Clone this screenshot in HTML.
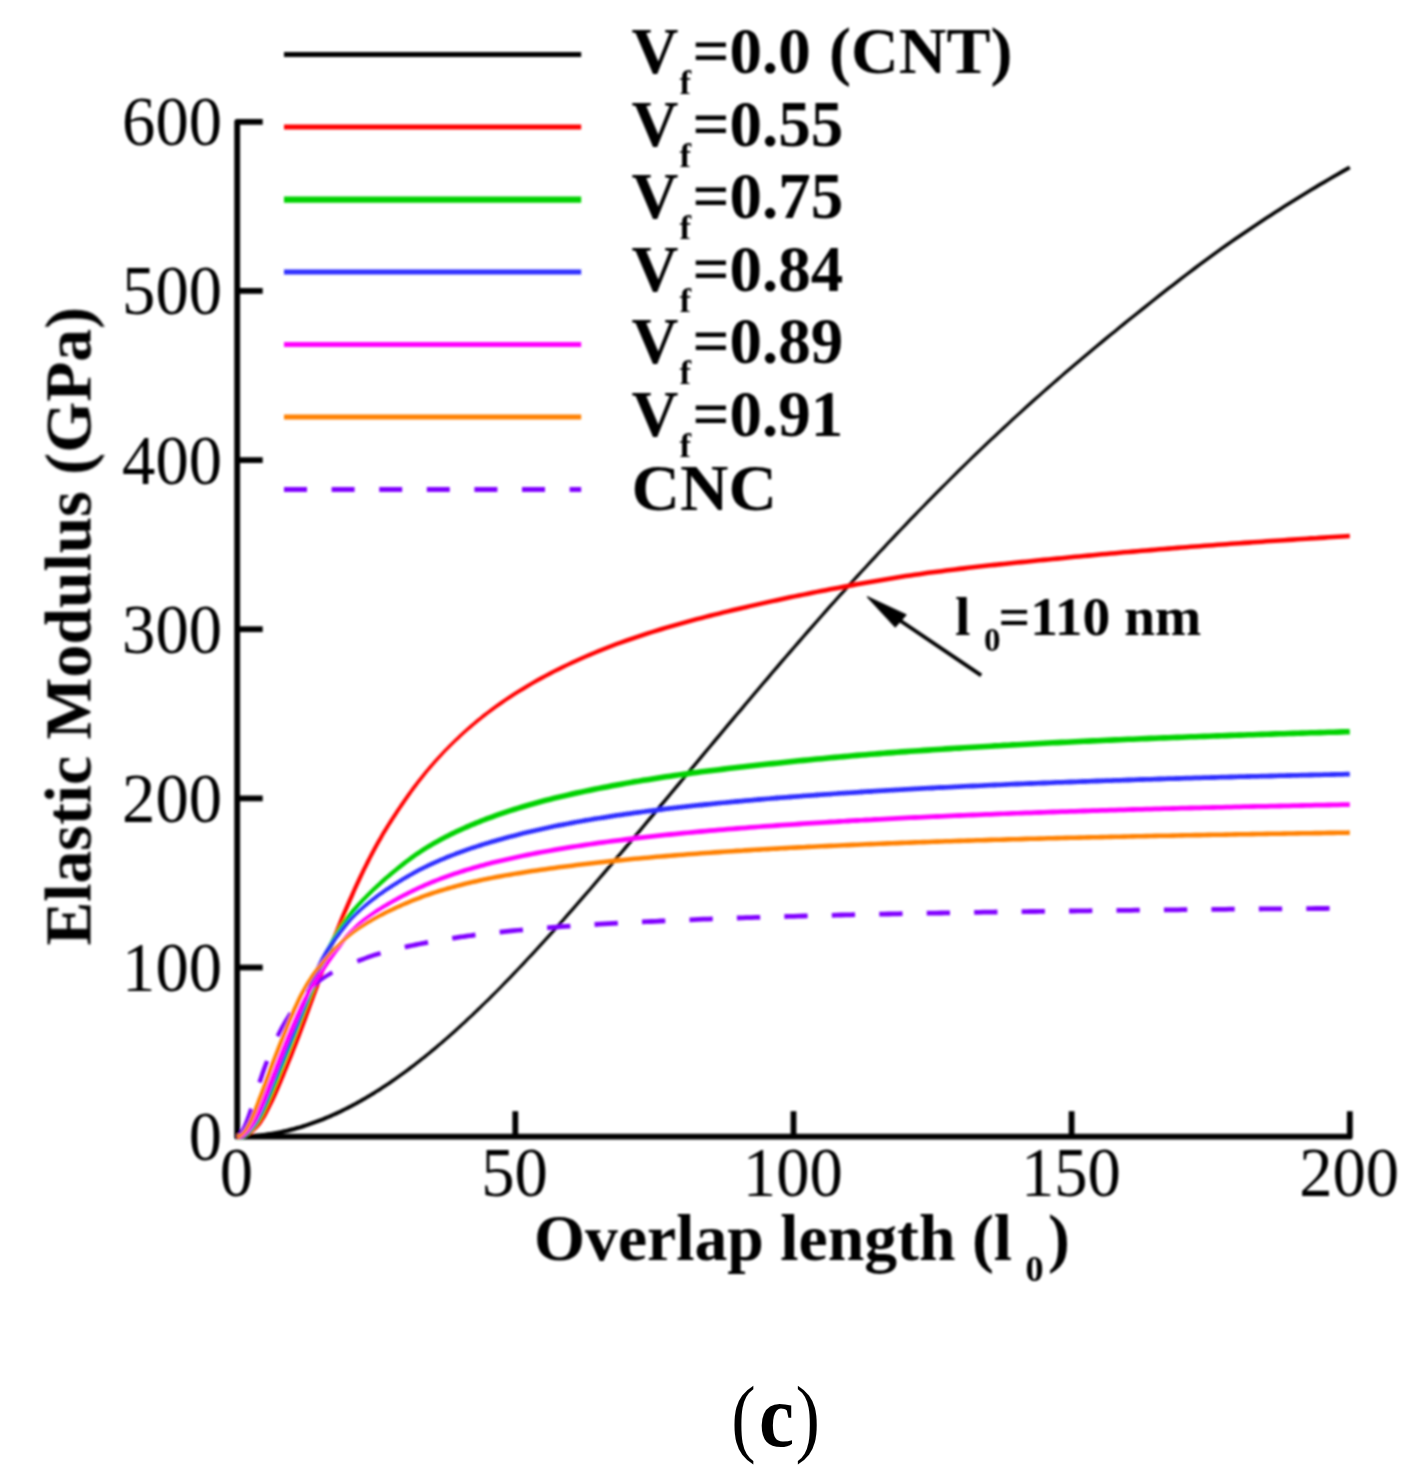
<!DOCTYPE html>
<html><head><meta charset="utf-8"><title>Elastic modulus vs overlap length</title>
<style>
html,body{margin:0;padding:0;background:#fff;}
body{width:1423px;height:1479px;overflow:hidden;font-family:"Liberation Serif",serif;}
svg{display:block;position:absolute;left:0;top:0;}
svg text{font-family:"Liberation Serif",serif;fill:#000;}
.b{font-weight:bold;}
.c{fill:none;stroke-linecap:butt;stroke-linejoin:round;}
</style></head><body>
<svg width="1423" height="1479" viewBox="0 0 1423 1479">
<rect width="1423" height="1479" fill="#fff"/>
<defs><filter id="bl" x="0" y="0" width="1423" height="1479" filterUnits="userSpaceOnUse"><feGaussianBlur stdDeviation="0.8"/></filter></defs>
<g filter="url(#bl)">
<g stroke="#000" stroke-width="5.8" fill="none" stroke-linecap="butt" stroke-linejoin="round">
<path d="M262.7,121.8 L237.2,121.8 L237.2,1136.7 L1349.8,1136.7 L1349.8,1111.2"/>
<path d="M237.2,967.5 h25.5"/>
<path d="M237.2,798.4 h25.5"/>
<path d="M237.2,629.2 h25.5"/>
<path d="M237.2,460.1 h25.5"/>
<path d="M237.2,290.9 h25.5"/>
<path d="M515.3,1136.7 v-25.5"/>
<path d="M793.5,1136.7 v-25.5"/>
<path d="M1071.6,1136.7 v-25.5"/>
</g>
<path d="M237.2,1138.8 238.6,1138.8 240.0,1138.8 241.4,1138.8 242.8,1138.8 244.2,1138.7 245.6,1138.7 247.0,1138.6 248.4,1138.5 249.8,1138.5 251.3,1138.4 252.7,1138.3 254.1,1138.2 255.5,1138.0 256.9,1137.9 258.3,1137.8 259.7,1137.6 261.1,1137.5 262.5,1137.3 263.9,1137.1 265.3,1137.0 266.7,1136.8 268.1,1136.6 269.5,1136.3 270.9,1136.1 272.3,1135.9 273.7,1135.6 275.1,1135.4 276.5,1135.1 277.9,1134.9 279.3,1134.6 280.7,1134.3 282.1,1134.0 283.5,1133.7 284.9,1133.4 286.4,1133.1 287.8,1132.7 289.2,1132.4 290.6,1132.0 292.0,1131.7 293.4,1131.3 294.8,1130.9 296.2,1130.5 297.6,1130.1 299.0,1129.7 300.4,1129.3 301.8,1128.9 303.2,1128.4 304.6,1128.0 306.0,1127.5 307.4,1127.1 308.8,1126.6 310.2,1126.1 311.6,1125.6 313.0,1125.1 314.4,1124.6 315.8,1124.1 317.2,1123.6 318.6,1123.1 320.0,1122.5 321.4,1122.0 322.8,1121.4 324.2,1120.9 325.6,1120.3 327.0,1119.7 328.4,1119.1 329.8,1118.5 331.2,1117.9 332.6,1117.3 334.0,1116.6 335.4,1116.0 336.8,1115.4 338.2,1114.7 339.6,1114.1 341.0,1113.4 342.3,1112.7 343.7,1112.0 345.1,1111.3 346.5,1110.6 347.9,1109.9 349.3,1109.2 350.7,1108.5 352.1,1107.7 353.5,1107.0 354.9,1106.2 356.3,1105.5 357.7,1104.7 359.1,1103.9 360.5,1103.1 361.9,1102.4 363.3,1101.6 364.7,1100.7 366.1,1099.9 367.5,1099.1 368.9,1098.3 370.3,1097.4 371.7,1096.6 373.1,1095.7 374.5,1094.9 375.8,1094.0 377.2,1093.1 378.6,1092.2 380.0,1091.4 381.4,1090.5 382.8,1089.5 384.2,1088.6 385.6,1087.7 387.0,1086.8 388.4,1085.8 389.8,1084.9 391.2,1083.9 392.6,1083.0 394.0,1082.0 395.4,1081.0 396.8,1080.1 398.1,1079.1 399.5,1078.1 400.9,1077.1 402.3,1076.1 403.7,1075.1 405.1,1074.0 406.5,1073.0 407.9,1072.0 409.3,1070.9 410.7,1069.9 412.1,1068.8 413.5,1067.8 414.9,1066.7 416.3,1065.6 417.6,1064.5 419.0,1063.4 420.4,1062.3 421.8,1061.2 423.2,1060.1 424.6,1059.0 426.0,1057.9 427.4,1056.8 428.8,1055.6 430.2,1054.5 431.6,1053.3 433.0,1052.2 434.4,1051.0 435.7,1049.9 437.1,1048.7 438.5,1047.5 439.9,1046.3 441.3,1045.1 442.7,1043.9 444.1,1042.7 445.5,1041.5 446.9,1040.3 448.3,1039.1 449.7,1037.9 451.1,1036.6 452.4,1035.4 453.8,1034.2 455.2,1032.9 456.6,1031.7 458.0,1030.4 459.4,1029.1 460.8,1027.9 462.2,1026.6 463.6,1025.3 465.0,1024.0 466.4,1022.7 467.7,1021.4 469.1,1020.1 470.5,1018.8 471.9,1017.5 473.3,1016.2 474.7,1014.9 476.1,1013.6 477.5,1012.2 478.9,1010.9 480.3,1009.5 481.7,1008.2 483.0,1006.8 484.4,1005.5 485.8,1004.1 487.2,1002.8 488.6,1001.4 493.1,997.0 497.5,992.5 502.0,988.0 506.4,983.5 510.9,978.9 515.4,974.3 519.8,969.6 524.3,964.9 528.7,960.1 533.2,955.4 537.7,950.6 542.1,945.7 546.6,940.8 551.0,935.9 555.5,931.0 559.9,926.0 564.4,921.0 568.8,916.0 573.3,910.9 577.8,905.8 582.2,900.7 586.7,895.6 591.1,890.5 595.6,885.3 600.0,880.1 604.5,874.9 608.9,869.7 613.4,864.5 617.8,859.3 622.3,854.0 626.8,848.7 631.2,843.5 635.7,838.2 640.1,832.9 644.6,827.6 649.0,822.2 653.5,816.9 657.9,811.6 662.4,806.3 666.8,800.9 671.3,795.6 675.7,790.2 680.2,784.9 684.6,779.5 689.1,774.2 693.5,768.9 698.0,763.5 702.4,758.2 706.9,752.8 711.3,747.5 715.8,742.2 720.2,736.9 724.7,731.5 729.1,726.2 733.6,720.9 738.0,715.6 742.5,710.4 746.9,705.1 751.4,699.8 755.8,694.6 760.3,689.3 764.7,684.1 769.2,678.9 773.6,673.6 778.1,668.4 782.5,663.3 786.9,658.1 791.4,652.9 795.8,647.8 800.3,642.7 804.7,637.6 809.2,632.5 813.6,627.4 818.1,622.3 822.5,617.3 827.0,612.3 831.4,607.3 835.9,602.3 840.3,597.3 844.8,592.4 849.2,587.5 853.6,582.6 858.1,577.7 862.5,572.8 867.0,568.0 871.4,563.2 875.9,558.4 880.3,553.6 884.8,548.9 889.2,544.1 893.7,539.4 898.1,534.7 902.5,530.0 907.0,525.4 911.4,520.8 915.9,516.2 920.3,511.6 924.8,507.0 929.2,502.5 933.7,498.0 938.1,493.5 942.6,489.0 947.0,484.5 951.5,480.1 955.9,475.7 960.4,471.3 964.8,467.0 969.3,462.6 973.7,458.3 978.2,454.0 982.6,449.8 987.1,445.5 991.5,441.3 996.0,437.2 1000.4,433.0 1004.9,428.9 1009.3,424.7 1013.8,420.6 1018.2,416.6 1022.7,412.5 1027.1,408.5 1031.6,404.5 1036.0,400.5 1040.5,396.6 1044.9,392.6 1049.4,388.7 1053.8,384.8 1058.3,381.0 1062.7,377.1 1067.1,373.3 1071.6,369.5 1076.0,365.7 1080.5,361.9 1084.9,358.2 1089.4,354.4 1093.8,350.7 1098.3,347.0 1102.7,343.4 1107.2,339.7 1111.6,336.1 1116.1,332.5 1120.5,328.8 1125.0,325.2 1129.4,321.6 1133.9,318.1 1138.3,314.5 1142.8,310.9 1147.2,307.4 1151.7,303.8 1156.1,300.3 1160.6,296.8 1165.0,293.3 1169.5,289.8 1173.9,286.4 1178.4,282.9 1182.8,279.5 1187.3,276.1 1191.7,272.7 1196.2,269.4 1200.6,266.1 1205.1,262.8 1209.5,259.5 1214.0,256.2 1218.4,253.0 1222.9,249.8 1227.3,246.7 1231.8,243.6 1236.2,240.5 1240.7,237.4 1245.1,234.4 1249.6,231.4 1254.0,228.4 1258.4,225.5 1262.9,222.5 1267.3,219.6 1271.8,216.7 1276.2,213.8 1280.7,211.0 1285.1,208.1 1289.6,205.3 1294.0,202.6 1298.5,199.8 1302.9,197.1 1307.4,194.3 1311.8,191.6 1316.3,189.0 1320.7,186.3 1325.2,183.7 1329.6,181.1 1334.0,178.5 1338.5,175.9 1342.9,173.4 1347.4,170.9 1350.7,169.0 1348.9,165.7 1345.5,167.6 1341.1,170.1 1336.6,172.7 1332.2,175.3 1327.7,177.9 1323.3,180.5 1318.8,183.1 1314.4,185.8 1309.9,188.5 1305.5,191.2 1301.0,193.9 1296.5,196.7 1292.1,199.5 1287.6,202.3 1283.2,205.1 1278.7,207.9 1274.3,210.8 1269.8,213.7 1265.4,216.6 1260.9,219.5 1256.5,222.5 1252.0,225.4 1247.6,228.4 1243.1,231.5 1238.7,234.5 1234.2,237.6 1229.7,240.7 1225.3,243.8 1220.8,247.0 1216.4,250.2 1211.9,253.4 1207.5,256.7 1203.0,260.0 1198.6,263.3 1194.1,266.6 1189.7,270.0 1185.2,273.4 1180.8,276.8 1176.3,280.2 1171.9,283.7 1167.4,287.1 1163.0,290.6 1158.5,294.1 1154.0,297.7 1149.6,301.2 1145.1,304.7 1140.7,308.3 1136.2,311.9 1131.8,315.5 1127.3,319.0 1122.9,322.6 1118.4,326.2 1114.0,329.9 1109.5,333.5 1105.1,337.1 1100.6,340.8 1096.2,344.5 1091.7,348.2 1087.3,351.9 1082.8,355.7 1078.4,359.4 1073.9,363.2 1069.5,367.0 1065.0,370.8 1060.6,374.7 1056.1,378.5 1051.7,382.4 1047.2,386.3 1042.8,390.2 1038.3,394.2 1033.9,398.1 1029.4,402.1 1025.0,406.1 1020.5,410.2 1016.1,414.2 1011.6,418.3 1007.2,422.4 1002.7,426.5 998.3,430.7 993.8,434.9 989.4,439.1 984.9,443.3 980.5,447.5 976.0,451.8 971.6,456.1 967.1,460.4 962.7,464.8 958.2,469.1 953.8,473.5 949.3,477.9 944.9,482.4 940.4,486.8 935.9,491.3 931.5,495.8 927.0,500.3 922.6,504.9 918.1,509.4 913.7,514.0 909.2,518.6 904.8,523.2 900.3,527.9 895.8,532.6 891.4,537.3 886.9,542.0 882.5,546.7 878.0,551.5 873.6,556.2 869.1,561.0 864.7,565.9 860.2,570.7 855.7,575.6 851.3,580.4 846.8,585.3 842.4,590.3 837.9,595.2 833.5,600.2 829.0,605.1 824.6,610.1 820.1,615.2 815.7,620.2 811.2,625.3 806.7,630.3 802.3,635.4 797.8,640.5 793.4,645.7 788.9,650.8 784.5,656.0 780.0,661.1 775.6,666.3 771.1,671.5 766.7,676.7 762.2,682.0 757.8,687.2 753.3,692.4 748.9,697.7 744.4,703.0 740.0,708.2 735.5,713.5 731.0,718.8 726.6,724.1 722.1,729.4 717.7,734.7 713.2,740.1 708.8,745.4 704.3,750.7 699.9,756.1 695.4,761.4 691.0,766.7 686.5,772.1 682.1,777.4 677.6,782.8 673.2,788.1 668.7,793.5 664.3,798.8 659.8,804.1 655.4,809.5 650.9,814.8 646.5,820.1 642.0,825.4 637.6,830.7 633.1,836.0 628.7,841.3 624.2,846.6 619.8,851.9 615.3,857.1 610.9,862.4 606.5,867.6 602.0,872.8 597.6,878.0 593.1,883.2 588.7,888.4 584.2,893.5 579.8,898.6 575.3,903.7 570.9,908.8 566.4,913.8 562.0,918.9 557.5,923.9 553.1,928.8 548.7,933.8 544.2,938.7 539.8,943.6 535.3,948.4 530.9,953.2 526.4,958.0 522.0,962.7 517.6,967.5 513.1,972.1 508.7,976.7 504.2,981.3 499.8,985.9 495.4,990.4 490.9,994.8 486.5,999.2 485.1,1000.6 483.7,1001.9 482.3,1003.3 480.9,1004.6 479.5,1006.0 478.1,1007.3 476.7,1008.6 475.3,1010.0 473.9,1011.3 472.6,1012.6 471.2,1013.9 469.8,1015.2 468.4,1016.5 467.0,1017.8 465.6,1019.1 464.2,1020.4 462.8,1021.7 461.4,1023.0 460.0,1024.3 458.6,1025.5 457.3,1026.8 455.9,1028.0 454.5,1029.3 453.1,1030.5 451.7,1031.8 450.3,1033.0 448.9,1034.2 447.5,1035.4 446.1,1036.7 444.7,1037.9 443.4,1039.1 442.0,1040.3 440.6,1041.5 439.2,1042.7 437.8,1043.8 436.4,1045.0 435.0,1046.2 433.6,1047.3 432.2,1048.5 430.8,1049.6 429.5,1050.8 428.1,1051.9 426.7,1053.0 425.3,1054.2 423.9,1055.3 422.5,1056.4 421.1,1057.5 419.7,1058.6 418.3,1059.7 417.0,1060.8 415.6,1061.8 414.2,1062.9 412.8,1064.0 411.4,1065.0 410.0,1066.1 408.6,1067.1 407.2,1068.2 405.8,1069.2 404.5,1070.2 403.1,1071.2 401.7,1072.2 400.3,1073.3 398.9,1074.2 397.5,1075.2 396.1,1076.2 394.7,1077.2 393.3,1078.2 392.0,1079.1 390.6,1080.1 389.2,1081.0 387.8,1081.9 386.4,1082.9 385.0,1083.8 383.6,1084.7 382.2,1085.6 380.9,1086.5 379.5,1087.4 378.1,1088.3 376.7,1089.2 375.3,1090.0 373.9,1090.9 372.5,1091.8 371.1,1092.6 369.8,1093.4 368.4,1094.3 367.0,1095.1 365.6,1095.9 364.2,1096.7 362.8,1097.5 361.4,1098.3 360.1,1099.1 358.7,1099.9 357.3,1100.6 355.9,1101.4 354.5,1102.2 353.1,1102.9 351.7,1103.6 350.4,1104.4 349.0,1105.1 347.6,1105.8 346.2,1106.5 344.8,1107.2 343.4,1107.9 342.0,1108.6 340.7,1109.2 339.3,1109.9 337.9,1110.5 336.5,1111.2 335.1,1111.8 333.7,1112.4 332.4,1113.1 331.0,1113.7 329.6,1114.3 328.2,1114.9 326.8,1115.5 325.4,1116.0 324.1,1116.6 322.7,1117.2 321.3,1117.7 319.9,1118.3 318.5,1118.8 317.1,1119.3 315.8,1119.8 314.4,1120.3 313.0,1120.8 311.6,1121.3 310.2,1121.8 308.9,1122.3 307.5,1122.7 306.1,1123.2 304.7,1123.7 303.3,1124.1 302.0,1124.5 300.6,1124.9 299.2,1125.4 297.8,1125.8 296.4,1126.1 295.1,1126.5 293.7,1126.9 292.3,1127.3 290.9,1127.6 289.5,1128.0 288.2,1128.3 286.8,1128.7 285.4,1129.0 284.0,1129.3 282.6,1129.6 281.3,1129.9 279.9,1130.2 278.5,1130.5 277.1,1130.7 275.8,1131.0 274.4,1131.2 273.0,1131.5 271.6,1131.7 270.2,1131.9 268.9,1132.1 267.5,1132.3 266.1,1132.5 264.7,1132.7 263.4,1132.9 262.0,1133.1 260.6,1133.2 259.2,1133.4 257.8,1133.5 256.5,1133.7 255.1,1133.8 253.7,1133.9 252.3,1134.0 251.0,1134.1 249.6,1134.2 248.2,1134.3 246.8,1134.3 245.5,1134.4 244.1,1134.4 242.7,1134.5 241.3,1134.5 240.0,1134.5 238.6,1134.5 237.2,1134.6Z" fill="#000"/>
<path d="M237.2,1139.0 238.7,1139.0 240.3,1138.8 241.8,1138.6 243.4,1138.1 244.9,1137.6 246.4,1136.9 247.9,1136.1 249.3,1135.2 250.8,1134.2 252.2,1133.3 253.6,1132.2 255.0,1131.1 256.4,1129.7 257.9,1128.2 259.5,1126.6 261.0,1124.7 262.5,1122.6 263.9,1120.3 265.4,1117.9 266.8,1115.4 268.2,1112.8 269.6,1110.1 271.0,1107.3 272.4,1104.5 273.9,1101.5 275.3,1098.5 276.7,1095.4 278.1,1092.2 279.5,1089.0 280.9,1085.7 282.3,1082.4 283.7,1079.0 285.1,1075.7 286.4,1072.3 287.8,1069.0 289.2,1065.6 290.6,1062.1 292.0,1058.7 293.4,1055.2 294.8,1051.6 296.2,1048.0 297.6,1044.4 299.0,1040.8 300.4,1037.2 301.8,1033.5 303.2,1029.8 304.6,1026.0 306.0,1022.2 307.4,1018.4 308.8,1014.6 310.2,1010.8 311.5,1007.0 312.9,1003.2 314.3,999.4 315.7,995.5 317.1,991.7 318.5,987.9 319.9,983.9 321.3,979.9 322.7,975.9 324.1,971.9 325.5,967.9 326.9,964.0 328.2,960.2 329.6,956.4 331.0,952.7 332.4,949.0 333.8,945.3 335.2,941.7 336.6,938.1 337.9,934.5 339.3,931.0 340.7,927.5 342.1,924.0 343.5,920.6 344.9,917.3 346.2,914.0 347.6,910.7 349.0,907.4 350.4,904.2 351.8,901.0 353.2,897.9 354.6,894.7 355.9,891.6 357.3,888.5 358.7,885.5 360.1,882.5 361.5,879.5 362.9,876.6 364.2,873.7 365.6,870.8 367.0,868.0 368.4,865.2 369.8,862.4 371.1,859.7 372.5,857.0 373.9,854.4 375.3,851.8 376.7,849.2 378.0,846.7 379.4,844.2 380.8,841.8 382.2,839.4 383.5,837.0 384.9,834.6 386.3,832.3 387.7,830.0 389.1,827.8 390.4,825.6 391.8,823.4 393.2,821.2 394.6,819.0 396.0,816.9 397.4,814.8 398.7,812.7 400.1,810.6 401.5,808.5 402.9,806.4 404.3,804.4 405.6,802.4 407.0,800.4 408.4,798.4 409.8,796.4 411.2,794.5 412.5,792.6 413.9,790.7 415.3,788.8 416.7,786.9 418.1,785.1 419.4,783.3 420.8,781.5 422.2,779.7 423.6,777.9 425.0,776.2 426.3,774.5 427.7,772.8 429.1,771.1 430.5,769.5 431.8,767.9 433.2,766.3 434.6,764.7 436.0,763.1 437.4,761.6 438.7,760.0 440.1,758.5 441.5,757.0 442.9,755.5 444.2,754.0 445.6,752.6 447.0,751.1 448.4,749.7 449.8,748.3 451.1,746.9 452.5,745.5 453.9,744.2 455.3,742.8 456.7,741.5 458.1,740.2 459.5,738.9 460.9,737.6 462.3,736.3 463.6,735.0 465.0,733.8 466.4,732.5 467.8,731.3 469.2,730.1 470.6,728.9 472.0,727.7 473.4,726.5 474.8,725.3 476.2,724.2 477.5,723.0 478.9,721.9 480.3,720.8 481.7,719.7 483.1,718.6 484.5,717.5 485.9,716.4 487.3,715.3 488.6,714.3 493.1,711.0 497.5,707.8 502.0,704.7 506.4,701.6 510.8,698.7 515.3,695.8 519.7,693.1 524.2,690.4 528.6,687.7 533.0,685.1 537.5,682.6 541.9,680.2 546.3,677.8 550.8,675.4 555.2,673.1 559.7,670.9 564.1,668.7 568.5,666.6 573.0,664.5 577.4,662.5 581.8,660.5 586.3,658.6 590.7,656.7 595.2,654.8 599.6,653.0 604.0,651.2 608.5,649.5 612.9,647.8 617.3,646.1 621.8,644.5 626.2,642.9 630.7,641.4 635.1,639.9 639.5,638.4 644.0,636.9 648.4,635.5 652.9,634.1 657.3,632.7 661.7,631.4 666.2,630.0 670.6,628.7 675.1,627.4 679.5,626.2 683.9,624.9 688.4,623.7 692.8,622.5 697.3,621.3 701.7,620.2 706.2,619.0 710.6,617.9 715.0,616.8 719.5,615.7 723.9,614.6 728.4,613.5 732.8,612.5 737.3,611.4 741.7,610.4 746.2,609.4 750.6,608.3 755.1,607.3 759.5,606.3 763.9,605.3 768.4,604.3 772.8,603.3 777.3,602.4 781.7,601.4 786.2,600.5 790.6,599.5 795.1,598.6 799.5,597.7 804.0,596.8 808.4,595.9 812.9,595.0 817.3,594.1 821.7,593.3 826.2,592.4 830.6,591.6 835.1,590.7 839.5,589.9 844.0,589.1 848.4,588.2 852.9,587.4 857.3,586.6 861.8,585.8 866.2,585.0 870.7,584.2 875.1,583.4 879.6,582.7 884.0,581.9 888.4,581.2 892.9,580.4 897.3,579.7 901.8,579.0 906.2,578.3 910.7,577.7 915.1,577.0 919.5,576.4 924.0,575.7 928.4,575.1 932.9,574.5 937.3,574.0 941.8,573.4 946.2,572.8 950.7,572.3 955.1,571.7 959.5,571.2 964.0,570.7 968.4,570.1 972.9,569.6 977.3,569.1 981.8,568.6 986.2,568.1 990.7,567.6 995.1,567.2 999.6,566.7 1004.0,566.2 1008.5,565.8 1012.9,565.3 1017.4,564.8 1021.8,564.4 1026.3,564.0 1030.7,563.5 1035.2,563.1 1039.6,562.6 1044.1,562.2 1048.5,561.8 1053.0,561.3 1057.4,560.9 1061.9,560.4 1066.3,560.0 1070.8,559.6 1075.2,559.1 1079.7,558.7 1084.1,558.3 1088.6,557.9 1093.0,557.5 1097.5,557.0 1101.9,556.6 1106.3,556.2 1110.8,555.8 1115.2,555.4 1119.7,555.0 1124.1,554.6 1128.6,554.2 1133.0,553.9 1137.5,553.5 1141.9,553.1 1146.4,552.7 1150.8,552.4 1155.3,552.0 1159.7,551.6 1164.2,551.3 1168.6,550.9 1173.1,550.5 1177.5,550.2 1182.0,549.8 1186.4,549.5 1190.9,549.1 1195.3,548.8 1199.8,548.5 1204.2,548.1 1208.7,547.8 1213.1,547.4 1217.6,547.1 1222.0,546.8 1226.5,546.5 1230.9,546.1 1235.4,545.8 1239.8,545.5 1244.3,545.2 1248.7,544.9 1253.2,544.6 1257.6,544.3 1262.1,544.0 1266.5,543.6 1271.0,543.3 1275.4,543.0 1279.9,542.8 1284.3,542.5 1288.8,542.2 1293.2,541.9 1297.7,541.6 1302.1,541.3 1306.6,541.0 1311.0,540.7 1315.5,540.4 1319.9,540.2 1324.4,539.9 1328.8,539.6 1333.3,539.3 1337.7,539.1 1342.2,538.8 1346.6,538.5 1349.9,538.3 1349.7,533.7 1346.3,533.9 1341.9,534.2 1337.4,534.5 1333.0,534.8 1328.5,535.0 1324.1,535.3 1319.6,535.6 1315.2,535.9 1310.7,536.1 1306.3,536.4 1301.8,536.7 1297.4,537.0 1292.9,537.3 1288.5,537.6 1284.0,537.9 1279.6,538.2 1275.1,538.5 1270.7,538.8 1266.2,539.1 1261.7,539.4 1257.3,539.7 1252.8,540.0 1248.4,540.3 1243.9,540.6 1239.5,540.9 1235.0,541.2 1230.6,541.6 1226.1,541.9 1221.7,542.2 1217.2,542.5 1212.8,542.9 1208.3,543.2 1203.9,543.5 1199.4,543.9 1195.0,544.2 1190.5,544.6 1186.1,544.9 1181.6,545.3 1177.2,545.6 1172.7,546.0 1168.3,546.3 1163.8,546.7 1159.4,547.0 1154.9,547.4 1150.5,547.8 1146.0,548.2 1141.5,548.5 1137.1,548.9 1132.6,549.3 1128.2,549.7 1123.7,550.1 1119.3,550.5 1114.8,550.9 1110.4,551.3 1105.9,551.7 1101.5,552.1 1097.0,552.5 1092.6,552.9 1088.1,553.3 1083.7,553.7 1079.2,554.2 1074.8,554.6 1070.3,555.0 1065.9,555.5 1061.4,555.9 1057.0,556.3 1052.5,556.8 1048.1,557.2 1043.6,557.6 1039.2,558.1 1034.7,558.5 1030.3,559.0 1025.8,559.4 1021.4,559.8 1016.9,560.3 1012.4,560.8 1008.0,561.2 1003.5,561.7 999.1,562.1 994.6,562.6 990.2,563.1 985.7,563.6 981.3,564.1 976.8,564.6 972.4,565.1 967.9,565.6 963.5,566.1 959.0,566.6 954.6,567.2 950.1,567.7 945.6,568.3 941.2,568.9 936.7,569.4 932.3,570.0 927.8,570.6 923.4,571.2 918.9,571.9 914.4,572.5 910.0,573.2 905.5,573.8 901.1,574.5 896.6,575.2 892.2,575.9 887.7,576.7 883.2,577.4 878.8,578.2 874.3,579.0 869.9,579.7 865.4,580.5 861.0,581.3 856.5,582.1 852.1,583.0 847.6,583.8 843.2,584.6 838.7,585.4 834.2,586.3 829.8,587.1 825.3,588.0 820.9,588.8 816.4,589.7 812.0,590.6 807.5,591.5 803.1,592.4 798.6,593.3 794.2,594.2 789.7,595.1 785.2,596.1 780.8,597.0 776.3,598.0 771.9,599.0 767.4,599.9 763.0,600.9 758.5,601.9 754.1,602.9 749.6,604.0 745.2,605.0 740.7,606.0 736.2,607.1 731.8,608.1 727.3,609.2 722.9,610.3 718.4,611.4 714.0,612.5 709.5,613.6 705.1,614.7 700.6,615.9 696.1,617.0 691.7,618.2 687.2,619.4 682.8,620.7 678.3,621.9 673.8,623.2 669.4,624.5 664.9,625.8 660.5,627.1 656.0,628.5 651.5,629.9 647.1,631.3 642.6,632.8 638.2,634.2 633.7,635.7 629.2,637.3 624.8,638.8 620.3,640.4 615.8,642.1 611.4,643.7 606.9,645.5 602.5,647.2 598.0,649.0 593.5,650.9 589.1,652.8 584.6,654.7 580.1,656.7 575.7,658.7 571.2,660.8 566.8,662.9 562.3,665.0 557.8,667.2 553.4,669.5 548.9,671.8 544.4,674.2 540.0,676.6 535.5,679.1 531.0,681.7 526.6,684.3 522.1,687.0 517.7,689.8 513.2,692.6 508.7,695.5 504.3,698.5 499.8,701.6 495.3,704.7 490.9,708.0 486.4,711.4 485.0,712.4 483.6,713.5 482.2,714.6 480.9,715.7 479.5,716.9 478.1,718.0 476.7,719.1 475.3,720.3 473.9,721.5 472.5,722.7 471.1,723.8 469.7,725.0 468.3,726.3 466.9,727.5 465.5,728.7 464.1,730.0 462.7,731.3 461.4,732.5 460.0,733.8 458.6,735.1 457.2,736.4 455.8,737.8 454.4,739.1 453.0,740.4 451.6,741.8 450.2,743.2 448.8,744.6 447.4,746.0 446.0,747.4 444.6,748.8 443.2,750.3 441.8,751.7 440.4,753.2 439.0,754.7 437.6,756.2 436.2,757.7 434.8,759.3 433.4,760.8 432.0,762.4 430.6,764.0 429.2,765.6 427.8,767.2 426.4,768.9 425.0,770.6 423.6,772.2 422.2,774.0 420.8,775.7 419.4,777.5 418.0,779.3 416.6,781.1 415.1,782.9 413.7,784.7 412.3,786.6 410.9,788.5 409.5,790.4 408.1,792.3 406.7,794.3 405.3,796.2 403.9,798.2 402.5,800.2 401.1,802.2 399.7,804.3 398.3,806.4 396.9,808.4 395.5,810.5 394.1,812.7 392.7,814.8 391.3,816.9 389.9,819.1 388.5,821.3 387.1,823.5 385.7,825.7 384.3,828.0 382.9,830.3 381.5,832.6 380.1,835.0 378.7,837.4 377.3,839.8 375.9,842.3 374.5,844.8 373.1,847.3 371.7,849.9 370.3,852.5 368.9,855.2 367.5,857.9 366.1,860.6 364.7,863.4 363.3,866.2 361.9,869.0 360.5,871.9 359.1,874.8 357.7,877.8 356.3,880.7 354.9,883.8 353.5,886.8 352.1,889.9 350.7,893.0 349.3,896.2 347.9,899.3 346.5,902.5 345.1,905.8 343.7,909.0 342.3,912.3 340.9,915.6 339.5,919.0 338.1,922.4 336.7,925.9 335.3,929.4 333.9,932.9 332.6,936.5 331.2,940.1 329.8,943.8 328.4,947.4 327.0,951.2 325.6,954.9 324.2,958.7 322.8,962.5 321.4,966.5 320.0,970.5 318.6,974.5 317.2,978.5 315.8,982.5 314.4,986.4 313.1,990.3 311.7,994.1 310.3,997.9 308.9,1001.7 307.5,1005.5 306.1,1009.3 304.7,1013.1 303.3,1016.9 301.9,1020.7 300.5,1024.5 299.2,1028.3 297.8,1032.0 296.4,1035.6 295.0,1039.3 293.6,1042.9 292.2,1046.5 290.8,1050.1 289.4,1053.6 288.1,1057.1 286.7,1060.6 285.3,1064.0 283.9,1067.4 282.5,1070.7 281.1,1074.1 279.7,1077.4 278.4,1080.7 277.0,1084.0 275.6,1087.3 274.2,1090.5 272.8,1093.7 271.5,1096.8 270.1,1099.8 268.7,1102.7 267.3,1105.5 266.0,1108.2 264.6,1110.9 263.2,1113.5 261.9,1115.9 260.6,1118.3 259.2,1120.5 257.9,1122.5 256.7,1124.3 255.4,1125.9 254.1,1127.2 252.8,1128.3 251.4,1129.2 250.0,1130.1 248.7,1131.0 247.3,1131.8 246.0,1132.5 244.7,1133.1 243.4,1133.5 242.2,1133.9 240.9,1134.1 239.7,1134.3 238.5,1134.4 237.2,1134.4Z" fill="#ff0000"/>
<path d="M237.1,1139.5 238.6,1139.6 240.4,1139.4 242.1,1139.0 243.7,1138.3 245.3,1137.4 246.8,1136.4 248.3,1135.2 249.7,1133.9 251.1,1132.4 252.6,1131.0 254.1,1129.4 255.6,1127.6 257.2,1125.7 258.7,1123.6 260.1,1121.3 261.6,1118.8 263.1,1116.1 264.5,1113.2 265.9,1110.2 267.4,1107.1 268.8,1103.9 270.2,1100.6 271.6,1097.3 273.0,1094.0 274.4,1090.7 275.8,1087.3 277.2,1083.9 278.6,1080.4 279.9,1077.0 281.3,1073.5 282.7,1069.9 284.1,1066.4 285.5,1062.9 286.9,1059.4 288.3,1056.0 289.7,1052.5 291.1,1049.1 292.5,1045.6 293.9,1042.1 295.3,1038.6 296.7,1035.0 298.0,1031.4 299.4,1027.8 300.8,1024.3 302.2,1020.7 303.6,1017.2 305.0,1013.7 306.4,1010.2 307.8,1006.8 309.1,1003.4 310.5,1000.0 311.9,996.6 313.3,993.3 314.7,990.0 316.1,986.6 317.5,983.3 318.9,979.9 320.3,976.2 321.7,972.5 323.1,968.8 324.5,965.2 325.8,961.7 327.2,958.4 328.5,955.5 329.8,952.7 331.2,950.0 332.6,947.3 333.9,944.7 335.3,942.1 336.7,939.6 338.0,937.2 339.4,934.8 340.8,932.6 342.1,930.3 343.5,928.2 344.8,926.1 346.2,924.1 347.6,922.1 348.9,920.1 350.3,918.2 351.6,916.4 353.0,914.6 354.3,912.9 355.6,911.3 357.0,909.7 358.4,908.1 359.7,906.6 361.1,905.0 362.5,903.5 363.8,902.1 365.2,900.6 366.6,899.2 367.9,897.8 369.3,896.4 370.7,895.0 372.1,893.7 373.5,892.3 374.9,891.0 376.3,889.7 377.7,888.4 379.1,887.2 380.5,885.9 381.8,884.7 383.2,883.4 384.6,882.2 386.0,881.0 387.4,879.8 388.8,878.6 390.2,877.5 391.6,876.3 393.0,875.1 394.3,874.0 395.7,872.8 397.1,871.7 398.5,870.6 399.9,869.5 401.3,868.4 402.7,867.3 404.1,866.2 405.4,865.2 406.8,864.1 408.2,863.1 409.6,862.0 411.0,861.0 412.4,860.0 413.8,859.0 415.1,858.0 416.5,857.1 417.9,856.1 419.3,855.2 420.7,854.2 422.1,853.3 423.4,852.4 424.8,851.6 426.2,850.7 427.6,849.8 429.0,849.0 430.4,848.2 431.7,847.4 433.1,846.6 434.5,845.8 435.9,845.0 437.3,844.2 438.7,843.5 440.0,842.7 441.4,842.0 442.8,841.2 444.2,840.5 445.6,839.8 447.0,839.1 448.3,838.4 449.7,837.7 451.1,837.0 452.5,836.3 453.9,835.7 455.2,835.0 456.6,834.3 458.0,833.7 459.4,833.1 460.8,832.4 462.2,831.8 463.5,831.2 464.9,830.6 466.3,830.0 467.7,829.4 469.1,828.8 470.5,828.2 471.8,827.6 473.2,827.0 474.6,826.4 476.0,825.9 477.4,825.3 478.8,824.8 480.2,824.2 481.5,823.7 482.9,823.1 484.3,822.6 485.7,822.1 487.1,821.5 488.4,821.0 492.9,819.4 497.3,817.8 501.7,816.3 506.2,814.8 510.6,813.3 515.0,811.9 519.5,810.6 523.9,809.2 528.3,808.0 532.8,806.7 537.2,805.5 541.6,804.3 546.1,803.1 550.5,802.0 554.9,800.8 559.4,799.8 563.8,798.7 568.3,797.7 572.7,796.7 577.1,795.7 581.6,794.7 586.0,793.8 590.4,792.9 594.9,792.0 599.3,791.1 603.8,790.2 608.2,789.4 612.7,788.5 617.1,787.7 621.5,786.9 626.0,786.1 630.4,785.3 634.9,784.6 639.3,783.8 643.7,783.1 648.2,782.4 652.6,781.7 657.1,781.0 661.5,780.3 666.0,779.6 670.4,778.9 674.8,778.3 679.3,777.6 683.7,777.0 688.2,776.4 692.6,775.8 697.1,775.2 701.5,774.6 706.0,774.1 710.4,773.5 714.8,772.9 719.3,772.4 723.7,771.9 728.2,771.3 732.6,770.8 737.1,770.3 741.5,769.8 746.0,769.3 750.4,768.8 754.9,768.3 759.3,767.8 763.8,767.3 768.2,766.8 772.7,766.4 777.1,765.9 781.6,765.4 786.0,765.0 790.4,764.5 794.9,764.1 799.3,763.6 803.8,763.2 808.2,762.7 812.7,762.3 817.1,761.8 821.6,761.4 826.0,761.0 830.5,760.6 834.9,760.2 839.4,759.8 843.8,759.4 848.3,759.0 852.7,758.6 857.2,758.2 861.6,757.8 866.0,757.5 870.5,757.1 874.9,756.7 879.4,756.4 883.8,756.0 888.3,755.7 892.7,755.4 897.2,755.0 901.6,754.7 906.1,754.4 910.5,754.1 915.0,753.8 919.4,753.5 923.9,753.2 928.3,752.9 932.8,752.6 937.2,752.3 941.7,752.0 946.1,751.7 950.6,751.4 955.0,751.1 959.5,750.9 963.9,750.6 968.3,750.3 972.8,750.0 977.2,749.8 981.7,749.5 986.1,749.2 990.6,749.0 995.0,748.7 999.5,748.5 1003.9,748.2 1008.4,748.0 1012.8,747.7 1017.3,747.5 1021.7,747.2 1026.2,747.0 1030.6,746.8 1035.1,746.5 1039.5,746.3 1044.0,746.1 1048.4,745.8 1052.9,745.6 1057.3,745.4 1061.8,745.2 1066.2,745.0 1070.7,744.7 1075.1,744.5 1079.6,744.3 1084.0,744.1 1088.5,743.9 1092.9,743.7 1097.4,743.5 1101.8,743.3 1106.3,743.1 1110.7,742.9 1115.2,742.7 1119.6,742.5 1124.1,742.3 1128.5,742.1 1133.0,741.9 1137.4,741.8 1141.9,741.6 1146.3,741.4 1150.8,741.2 1155.2,741.0 1159.7,740.8 1164.1,740.7 1168.6,740.5 1173.0,740.3 1177.5,740.2 1181.9,740.0 1186.4,739.8 1190.8,739.6 1195.3,739.5 1199.7,739.3 1204.2,739.2 1208.6,739.0 1213.1,738.8 1217.5,738.7 1221.9,738.5 1226.4,738.4 1230.8,738.2 1235.3,738.1 1239.7,737.9 1244.2,737.8 1248.6,737.6 1253.1,737.5 1257.5,737.3 1262.0,737.2 1266.4,737.0 1270.9,736.9 1275.3,736.7 1279.8,736.6 1284.2,736.5 1288.7,736.3 1293.1,736.2 1297.6,736.0 1302.0,735.9 1306.5,735.8 1310.9,735.6 1315.4,735.5 1319.8,735.4 1324.3,735.2 1328.7,735.1 1333.2,735.0 1337.6,734.9 1342.1,734.7 1346.5,734.6 1349.9,734.5 1349.7,728.9 1346.4,729.0 1341.9,729.1 1337.5,729.3 1333.0,729.4 1328.6,729.5 1324.1,729.7 1319.7,729.8 1315.2,729.9 1310.8,730.0 1306.3,730.2 1301.9,730.3 1297.4,730.4 1293.0,730.6 1288.5,730.7 1284.1,730.9 1279.6,731.0 1275.2,731.1 1270.7,731.3 1266.3,731.4 1261.8,731.6 1257.4,731.7 1252.9,731.9 1248.5,732.0 1244.0,732.2 1239.6,732.3 1235.1,732.5 1230.7,732.6 1226.2,732.8 1221.8,732.9 1217.3,733.1 1212.9,733.2 1208.4,733.4 1203.9,733.6 1199.5,733.7 1195.0,733.9 1190.6,734.1 1186.1,734.2 1181.7,734.4 1177.2,734.6 1172.8,734.7 1168.3,734.9 1163.9,735.1 1159.4,735.3 1155.0,735.4 1150.5,735.6 1146.1,735.8 1141.6,736.0 1137.2,736.2 1132.7,736.4 1128.3,736.5 1123.8,736.7 1119.4,736.9 1114.9,737.1 1110.5,737.3 1106.0,737.5 1101.6,737.7 1097.1,737.9 1092.7,738.1 1088.2,738.3 1083.8,738.5 1079.3,738.7 1074.9,738.9 1070.4,739.2 1066.0,739.4 1061.5,739.6 1057.0,739.8 1052.6,740.0 1048.1,740.3 1043.7,740.5 1039.2,740.7 1034.8,740.9 1030.3,741.2 1025.9,741.4 1021.4,741.7 1017.0,741.9 1012.5,742.1 1008.1,742.4 1003.6,742.6 999.2,742.9 994.7,743.1 990.3,743.4 985.8,743.7 981.4,743.9 976.9,744.2 972.5,744.5 968.0,744.7 963.6,745.0 959.1,745.3 954.7,745.6 950.2,745.8 945.7,746.1 941.3,746.4 936.8,746.7 932.4,747.0 927.9,747.3 923.5,747.6 919.0,747.9 914.6,748.2 910.1,748.5 905.7,748.8 901.2,749.1 896.8,749.5 892.3,749.8 887.9,750.1 883.4,750.5 879.0,750.8 874.5,751.2 870.0,751.5 865.6,751.9 861.1,752.3 856.7,752.6 852.2,753.0 847.8,753.4 843.3,753.8 838.9,754.2 834.4,754.6 830.0,755.0 825.5,755.4 821.1,755.9 816.6,756.3 812.1,756.7 807.7,757.2 803.2,757.6 798.8,758.1 794.3,758.5 789.9,759.0 785.4,759.4 781.0,759.9 776.5,760.4 772.1,760.8 767.6,761.3 763.2,761.8 758.7,762.3 754.3,762.8 749.8,763.3 745.3,763.8 740.9,764.3 736.4,764.8 732.0,765.3 727.5,765.8 723.1,766.3 718.6,766.9 714.2,767.4 709.7,768.0 705.3,768.5 700.8,769.1 696.3,769.7 691.9,770.3 687.4,770.9 683.0,771.5 678.5,772.2 674.1,772.8 669.6,773.5 665.1,774.1 660.7,774.8 656.2,775.5 651.8,776.2 647.3,776.9 642.8,777.6 638.4,778.4 633.9,779.1 629.5,779.9 625.0,780.7 620.6,781.5 616.1,782.3 611.6,783.1 607.2,784.0 602.7,784.8 598.3,785.7 593.8,786.6 589.3,787.5 584.9,788.4 580.4,789.4 576.0,790.3 571.5,791.3 567.0,792.4 562.6,793.4 558.1,794.5 553.6,795.6 549.2,796.7 544.7,797.8 540.2,799.0 535.8,800.3 531.3,801.5 526.8,802.8 522.4,804.1 517.9,805.5 513.4,806.8 509.0,808.3 504.5,809.8 500.0,811.3 495.6,812.8 491.1,814.5 486.6,816.1 485.2,816.6 483.8,817.2 482.4,817.7 481.0,818.3 479.6,818.8 478.2,819.4 476.8,819.9 475.4,820.5 474.0,821.1 472.6,821.7 471.2,822.2 469.8,822.8 468.4,823.4 467.0,824.0 465.6,824.6 464.3,825.3 462.9,825.9 461.5,826.5 460.1,827.2 458.7,827.8 457.3,828.4 455.9,829.1 454.5,829.8 453.1,830.4 451.7,831.1 450.3,831.8 448.9,832.5 447.5,833.2 446.1,833.9 444.7,834.6 443.3,835.4 441.9,836.1 440.5,836.9 439.1,837.6 437.7,838.4 436.3,839.2 434.9,840.0 433.5,840.8 432.1,841.6 430.7,842.4 429.3,843.2 427.9,844.1 426.5,844.9 425.1,845.8 423.7,846.7 422.3,847.6 420.9,848.5 419.5,849.4 418.1,850.4 416.7,851.3 415.3,852.3 413.9,853.3 412.5,854.3 411.1,855.3 409.7,856.3 408.3,857.4 406.9,858.4 405.5,859.5 404.1,860.6 402.7,861.6 401.3,862.7 399.9,863.8 398.6,864.9 397.2,866.1 395.8,867.2 394.4,868.4 393.0,869.5 391.6,870.7 390.2,871.8 388.8,873.0 387.4,874.2 386.0,875.4 384.6,876.6 383.2,877.8 381.8,879.1 380.4,880.3 379.1,881.6 377.7,882.9 376.3,884.1 374.9,885.5 373.5,886.8 372.1,888.1 370.7,889.4 369.3,890.8 367.9,892.2 366.5,893.6 365.1,895.0 363.7,896.4 362.3,897.8 360.9,899.3 359.5,900.7 358.1,902.3 356.7,903.8 355.3,905.3 353.8,906.9 352.4,908.5 351.0,910.1 349.5,911.9 348.1,913.7 346.6,915.5 345.2,917.5 343.8,919.4 342.4,921.4 341.0,923.5 339.5,925.6 338.1,927.8 336.7,930.1 335.3,932.4 333.8,934.8 332.4,937.2 331.0,939.8 329.6,942.3 328.2,945.0 326.8,947.7 325.4,950.4 323.9,953.3 322.5,956.3 321.0,959.7 319.6,963.3 318.2,967.0 316.8,970.7 315.4,974.4 314.1,978.0 312.7,981.3 311.3,984.6 309.9,988.0 308.5,991.3 307.1,994.7 305.7,998.0 304.3,1001.4 302.9,1004.9 301.5,1008.3 300.1,1011.8 298.8,1015.3 297.4,1018.8 296.0,1022.4 294.6,1025.9 293.2,1029.5 291.8,1033.1 290.4,1036.7 289.0,1040.2 287.6,1043.7 286.2,1047.2 284.9,1050.6 283.5,1054.0 282.1,1057.5 280.7,1061.0 279.3,1064.5 277.9,1068.0 276.5,1071.5 275.1,1075.0 273.7,1078.5 272.3,1081.9 271.0,1085.3 269.6,1088.7 268.2,1092.0 266.8,1095.3 265.4,1098.6 264.0,1101.8 262.7,1105.0 261.3,1108.1 260.0,1111.0 258.6,1113.8 257.3,1116.4 256.0,1118.9 254.7,1121.1 253.4,1123.1 252.1,1124.9 250.9,1126.6 249.6,1128.2 248.3,1129.6 246.9,1130.7 245.6,1131.7 244.3,1132.5 243.0,1133.1 241.8,1133.5 240.7,1133.8 239.6,1133.9 238.6,1134.0 237.3,1133.9Z" fill="#00d200"/>
<path d="M237.1,1139.1 238.7,1139.1 240.4,1138.9 242.1,1138.3 243.7,1137.5 245.3,1136.5 246.7,1135.3 248.1,1133.9 249.6,1132.4 251.1,1130.8 252.6,1129.0 254.1,1127.1 255.6,1125.0 257.0,1122.7 258.5,1120.3 259.9,1117.6 261.4,1114.8 262.8,1111.9 264.2,1108.8 265.6,1105.6 267.1,1102.4 268.5,1099.0 269.9,1095.6 271.3,1092.2 272.6,1088.7 274.0,1085.2 275.4,1081.8 276.8,1078.4 278.2,1075.0 279.6,1071.6 281.0,1068.2 282.4,1064.8 283.8,1061.4 285.2,1057.9 286.5,1054.6 287.9,1051.2 289.3,1047.9 290.7,1044.5 292.1,1041.1 293.5,1037.7 294.9,1034.2 296.3,1030.7 297.7,1027.2 299.1,1023.7 300.5,1020.1 301.9,1016.6 303.2,1013.1 304.6,1009.7 306.0,1006.2 307.4,1002.6 308.9,998.8 310.3,994.8 311.7,990.8 313.0,986.8 314.4,983.0 315.8,979.3 317.1,976.0 318.5,972.9 319.9,969.8 321.2,966.8 322.6,963.9 323.9,961.1 325.3,958.4 326.6,955.9 328.0,953.5 329.3,951.3 330.7,949.1 332.0,947.0 333.4,945.0 334.8,943.0 336.1,941.1 337.5,939.1 338.9,937.2 340.3,935.4 341.6,933.5 343.0,931.7 344.4,929.9 345.7,928.2 347.1,926.5 348.5,924.8 349.8,923.2 351.2,921.6 352.5,920.1 353.9,918.6 355.2,917.2 356.6,915.8 358.0,914.5 359.4,913.2 360.8,911.9 362.2,910.6 363.6,909.4 364.9,908.2 366.3,907.1 367.7,905.9 369.1,904.8 370.5,903.7 371.9,902.6 373.3,901.5 374.7,900.5 376.0,899.4 377.4,898.4 378.8,897.3 380.2,896.3 381.6,895.4 383.0,894.4 384.4,893.4 385.7,892.5 387.1,891.6 388.5,890.7 389.9,889.8 391.3,888.9 392.7,888.0 394.1,887.1 395.4,886.2 396.8,885.4 398.2,884.5 399.6,883.6 401.0,882.8 402.4,882.0 403.8,881.1 405.1,880.3 406.5,879.5 407.9,878.7 409.3,877.9 410.7,877.1 412.1,876.3 413.5,875.5 414.8,874.8 416.2,874.0 417.6,873.3 419.0,872.6 420.4,871.8 421.8,871.1 423.1,870.4 424.5,869.7 425.9,869.0 427.3,868.4 428.7,867.7 430.1,867.1 431.4,866.4 432.8,865.8 434.2,865.2 435.6,864.5 437.0,863.9 438.4,863.3 439.7,862.7 441.1,862.1 442.5,861.5 443.9,861.0 445.3,860.4 446.7,859.8 448.0,859.3 449.4,858.7 450.8,858.2 452.2,857.6 453.6,857.1 455.0,856.6 456.3,856.0 457.7,855.5 459.1,855.0 460.5,854.5 461.9,854.0 463.3,853.5 464.7,853.0 466.0,852.5 467.4,852.0 468.8,851.5 470.2,851.1 471.6,850.6 473.0,850.1 474.3,849.7 475.7,849.2 477.1,848.8 478.5,848.3 479.9,847.9 481.3,847.4 482.7,847.0 484.0,846.5 485.4,846.1 486.8,845.7 488.2,845.3 492.6,844.0 497.1,842.7 501.5,841.4 505.9,840.2 510.4,839.0 514.8,837.9 519.3,836.7 523.7,835.6 528.1,834.6 532.6,833.5 537.0,832.5 541.4,831.5 545.9,830.5 550.3,829.6 554.8,828.6 559.2,827.7 563.6,826.9 568.1,826.0 572.5,825.2 577.0,824.3 581.4,823.6 585.8,822.8 590.3,822.0 594.7,821.3 599.2,820.6 603.6,819.9 608.1,819.2 612.5,818.5 616.9,817.8 621.4,817.2 625.8,816.5 630.3,815.9 634.7,815.3 639.2,814.7 643.6,814.1 648.1,813.5 652.5,813.0 656.9,812.4 661.4,811.9 665.8,811.3 670.3,810.8 674.7,810.3 679.2,809.8 683.6,809.3 688.1,808.8 692.5,808.3 697.0,807.8 701.4,807.4 705.8,806.9 710.3,806.4 714.7,806.0 719.2,805.6 723.6,805.1 728.1,804.7 732.5,804.3 737.0,803.9 741.4,803.5 745.9,803.1 750.3,802.7 754.8,802.3 759.2,801.9 763.7,801.5 768.1,801.1 772.6,800.8 777.0,800.4 781.5,800.1 785.9,799.7 790.3,799.4 794.8,799.0 799.2,798.7 803.7,798.3 808.1,798.0 812.6,797.7 817.0,797.4 821.5,797.1 825.9,796.8 830.4,796.4 834.8,796.1 839.3,795.8 843.7,795.5 848.2,795.3 852.6,795.0 857.1,794.7 861.5,794.4 866.0,794.1 870.4,793.9 874.9,793.6 879.3,793.3 883.8,793.1 888.2,792.8 892.7,792.5 897.1,792.3 901.6,792.0 906.0,791.8 910.5,791.5 914.9,791.3 919.4,791.1 923.8,790.8 928.2,790.6 932.7,790.4 937.1,790.1 941.6,789.9 946.0,789.7 950.5,789.5 954.9,789.2 959.4,789.0 963.8,788.8 968.3,788.6 972.7,788.4 977.2,788.2 981.6,788.0 986.1,787.8 990.5,787.6 995.0,787.4 999.4,787.2 1003.9,787.0 1008.3,786.8 1012.8,786.6 1017.2,786.4 1021.7,786.3 1026.1,786.1 1030.6,785.9 1035.0,785.7 1039.5,785.5 1043.9,785.4 1048.4,785.2 1052.8,785.0 1057.3,784.8 1061.7,784.7 1066.2,784.5 1070.6,784.4 1075.1,784.2 1079.5,784.0 1084.0,783.9 1088.4,783.7 1092.9,783.6 1097.3,783.4 1101.8,783.2 1106.2,783.1 1110.7,782.9 1115.1,782.8 1119.6,782.7 1124.0,782.5 1128.5,782.4 1132.9,782.2 1137.4,782.1 1141.8,781.9 1146.3,781.8 1150.7,781.7 1155.2,781.5 1159.6,781.4 1164.1,781.3 1168.5,781.1 1173.0,781.0 1177.4,780.9 1181.9,780.7 1186.3,780.6 1190.8,780.5 1195.2,780.3 1199.7,780.2 1204.1,780.1 1208.6,780.0 1213.0,779.9 1217.5,779.7 1221.9,779.6 1226.4,779.5 1230.8,779.4 1235.3,779.3 1239.7,779.1 1244.2,779.0 1248.6,778.9 1253.1,778.8 1257.5,778.7 1262.0,778.6 1266.4,778.5 1270.9,778.4 1275.3,778.2 1279.8,778.1 1284.2,778.0 1288.7,777.9 1293.1,777.8 1297.6,777.7 1302.0,777.6 1306.5,777.5 1310.9,777.4 1315.4,777.3 1319.8,777.2 1324.3,777.1 1328.7,777.0 1333.2,776.9 1337.6,776.8 1342.1,776.7 1346.5,776.6 1349.9,776.5 1349.7,771.7 1346.4,771.8 1342.0,771.9 1337.5,772.0 1333.1,772.1 1328.6,772.2 1324.2,772.3 1319.7,772.4 1315.3,772.5 1310.8,772.6 1306.4,772.7 1301.9,772.8 1297.5,772.9 1293.0,773.0 1288.5,773.1 1284.1,773.2 1279.6,773.3 1275.2,773.4 1270.7,773.6 1266.3,773.7 1261.8,773.8 1257.4,773.9 1252.9,774.0 1248.5,774.1 1244.0,774.2 1239.6,774.3 1235.1,774.5 1230.7,774.6 1226.2,774.7 1221.8,774.8 1217.3,774.9 1212.9,775.1 1208.4,775.2 1204.0,775.3 1199.5,775.4 1195.1,775.6 1190.6,775.7 1186.2,775.8 1181.7,775.9 1177.3,776.1 1172.8,776.2 1168.4,776.3 1163.9,776.5 1159.5,776.6 1155.0,776.7 1150.6,776.9 1146.1,777.0 1141.7,777.1 1137.2,777.3 1132.8,777.4 1128.3,777.6 1123.9,777.7 1119.4,777.9 1115.0,778.0 1110.5,778.2 1106.1,778.3 1101.6,778.5 1097.2,778.6 1092.7,778.8 1088.3,778.9 1083.8,779.1 1079.4,779.2 1074.9,779.4 1070.4,779.6 1066.0,779.7 1061.5,779.9 1057.1,780.1 1052.6,780.2 1048.2,780.4 1043.7,780.6 1039.3,780.7 1034.8,780.9 1030.4,781.1 1025.9,781.3 1021.5,781.5 1017.0,781.6 1012.6,781.8 1008.1,782.0 1003.7,782.2 999.2,782.4 994.8,782.6 990.3,782.8 985.9,783.0 981.4,783.2 977.0,783.4 972.5,783.6 968.1,783.8 963.6,784.0 959.2,784.2 954.7,784.5 950.3,784.7 945.8,784.9 941.4,785.1 936.9,785.3 932.5,785.6 928.0,785.8 923.5,786.0 919.1,786.3 914.6,786.5 910.2,786.8 905.7,787.0 901.3,787.2 896.8,787.5 892.4,787.8 887.9,788.0 883.5,788.3 879.0,788.5 874.6,788.8 870.1,789.1 865.7,789.3 861.2,789.6 856.8,789.9 852.3,790.2 847.9,790.5 843.4,790.8 839.0,791.1 834.5,791.4 830.1,791.7 825.6,792.0 821.1,792.3 816.7,792.6 812.2,792.9 807.8,793.2 803.3,793.6 798.9,793.9 794.4,794.2 790.0,794.6 785.5,794.9 781.1,795.3 776.6,795.6 772.2,796.0 767.7,796.4 763.3,796.7 758.8,797.1 754.4,797.5 749.9,797.9 745.4,798.3 741.0,798.7 736.5,799.1 732.1,799.5 727.6,799.9 723.2,800.4 718.7,800.8 714.3,801.2 709.8,801.7 705.4,802.1 700.9,802.6 696.5,803.1 692.0,803.6 687.5,804.0 683.1,804.5 678.6,805.0 674.2,805.5 669.7,806.1 665.3,806.6 660.8,807.1 656.4,807.7 651.9,808.3 647.4,808.8 643.0,809.4 638.5,810.0 634.1,810.6 629.6,811.2 625.2,811.8 620.7,812.5 616.2,813.1 611.8,813.8 607.3,814.5 602.9,815.2 598.4,815.9 594.0,816.6 589.5,817.4 585.0,818.1 580.6,818.9 576.1,819.7 571.7,820.5 567.2,821.4 562.7,822.2 558.3,823.1 553.8,824.0 549.4,825.0 544.9,825.9 540.4,826.9 536.0,827.9 531.5,829.0 527.0,830.0 522.6,831.1 518.1,832.2 513.7,833.4 509.2,834.5 504.7,835.7 500.3,837.0 495.8,838.2 491.3,839.5 486.9,840.9 485.5,841.3 484.1,841.7 482.7,842.2 481.3,842.6 479.9,843.1 478.5,843.5 477.1,844.0 475.7,844.4 474.3,844.9 472.9,845.3 471.5,845.8 470.1,846.3 468.7,846.8 467.3,847.3 465.9,847.7 464.5,848.2 463.1,848.7 461.7,849.2 460.3,849.8 458.9,850.3 457.5,850.8 456.1,851.3 454.8,851.8 453.4,852.4 452.0,852.9 450.6,853.5 449.2,854.0 447.8,854.6 446.4,855.1 445.0,855.7 443.6,856.3 442.2,856.9 440.8,857.5 439.4,858.1 438.0,858.7 436.6,859.3 435.2,859.9 433.8,860.5 432.4,861.2 431.0,861.8 429.6,862.5 428.2,863.1 426.8,863.8 425.4,864.5 424.0,865.2 422.6,865.9 421.2,866.6 419.8,867.3 418.4,868.1 417.0,868.8 415.6,869.6 414.2,870.3 412.8,871.1 411.4,871.9 410.0,872.7 408.6,873.5 407.2,874.3 405.8,875.1 404.4,875.9 403.0,876.8 401.6,877.6 400.2,878.5 398.8,879.3 397.5,880.2 396.1,881.1 394.7,881.9 393.3,882.8 391.9,883.7 390.5,884.6 389.1,885.5 387.7,886.4 386.3,887.3 384.9,888.3 383.5,889.2 382.1,890.2 380.7,891.2 379.3,892.2 377.9,893.2 376.5,894.3 375.1,895.3 373.7,896.4 372.3,897.5 370.9,898.6 369.5,899.7 368.1,900.8 366.8,901.9 365.4,903.1 364.0,904.3 362.6,905.5 361.2,906.7 359.8,908.0 358.4,909.3 357.0,910.6 355.6,912.0 354.2,913.4 352.8,914.8 351.4,916.2 349.9,917.7 348.5,919.2 347.1,920.8 345.7,922.4 344.2,924.1 342.8,925.8 341.4,927.6 340.0,929.4 338.6,931.2 337.2,933.1 335.8,934.9 334.4,936.9 333.0,938.8 331.6,940.7 330.1,942.8 328.7,944.8 327.3,946.9 325.9,949.1 324.4,951.4 323.0,953.9 321.6,956.5 320.1,959.2 318.7,962.0 317.3,965.0 315.9,968.0 314.5,971.1 313.1,974.3 311.6,977.7 310.2,981.4 308.8,985.3 307.4,989.3 306.0,993.3 304.6,997.2 303.2,1001.0 301.9,1004.6 300.5,1008.0 299.1,1011.5 297.7,1015.0 296.3,1018.5 294.9,1022.0 293.5,1025.5 292.1,1029.1 290.8,1032.6 289.4,1036.0 288.0,1039.4 286.6,1042.8 285.2,1046.2 283.8,1049.5 282.4,1052.9 281.0,1056.3 279.6,1059.7 278.3,1063.1 276.9,1066.5 275.5,1069.9 274.1,1073.3 272.7,1076.7 271.3,1080.1 269.9,1083.6 268.5,1087.0 267.1,1090.5 265.7,1093.9 264.4,1097.3 263.0,1100.7 261.6,1103.9 260.2,1107.0 258.9,1110.1 257.5,1112.9 256.2,1115.7 254.8,1118.2 253.5,1120.6 252.2,1122.8 250.9,1124.8 249.6,1126.7 248.3,1128.4 247.0,1130.0 245.7,1131.3 244.4,1132.3 243.1,1133.1 241.8,1133.7 240.6,1134.1 239.5,1134.3 238.5,1134.4 237.3,1134.3Z" fill="#2d2dff"/>
<path d="M238.2,1138.5 239.8,1137.4 241.4,1135.7 243.1,1133.7 244.7,1131.3 246.2,1128.4 247.7,1125.1 249.2,1121.5 250.6,1117.8 252.1,1113.7 253.5,1109.5 249.2,1108.1 247.8,1112.3 246.4,1116.2 245.0,1119.9 243.7,1123.4 242.3,1126.5 241.0,1129.2 239.8,1131.5 238.7,1133.3 237.5,1134.4 236.2,1134.9Z M261.8,1083.2 263.3,1078.6 264.8,1074.1 266.2,1069.9 267.7,1065.8 269.2,1061.8 265.0,1060.2 263.5,1064.2 262.0,1068.3 260.5,1072.6 259.0,1077.1 257.4,1081.8Z M279.6,1037.2 281.0,1034.2 282.5,1031.4 283.9,1028.6 285.3,1025.9 286.7,1023.4 288.1,1020.9 289.5,1018.5 290.9,1016.3 292.4,1014.1 289.0,1011.9 287.6,1014.1 286.1,1016.4 284.6,1018.8 283.1,1021.3 281.6,1023.9 280.1,1026.6 278.6,1029.4 277.2,1032.3 275.7,1035.2Z M308.2,993.1 309.6,991.7 311.0,990.4 312.4,989.1 313.8,987.9 315.2,986.7 316.6,985.6 318.1,984.4 319.5,983.3 320.9,982.3 322.3,981.2 323.7,980.2 325.1,979.3 326.4,978.4 327.8,977.5 329.2,976.7 330.6,975.9 332.0,975.1 333.4,974.3 331.4,970.6 329.9,971.5 328.5,972.3 327.1,973.2 325.7,974.1 324.2,975.0 322.8,976.0 321.4,977.1 320.0,978.1 318.5,979.2 317.1,980.4 315.7,981.5 314.3,982.7 312.9,983.9 311.5,985.2 310.0,986.5 308.6,987.9 307.2,989.3 305.8,990.7Z M358.1,963.4 359.6,962.8 361.0,962.3 362.5,961.7 363.9,961.2 365.4,960.6 366.8,960.1 368.3,959.6 369.7,959.1 371.1,958.6 372.6,958.1 374.0,957.6 375.5,957.1 376.9,956.7 378.4,956.2 379.8,955.8 381.3,955.4 379.9,951.0 378.5,951.4 377.0,951.9 375.5,952.3 374.1,952.8 372.6,953.3 371.1,953.8 369.7,954.3 368.2,954.8 366.7,955.3 365.3,955.9 363.8,956.4 362.3,957.0 360.9,957.5 359.4,958.1 358.0,958.6 356.5,959.2Z M405.3,949.4 406.7,949.0 408.2,948.7 409.6,948.4 411.1,948.1 412.5,947.8 414.0,947.5 415.4,947.2 416.9,946.9 418.3,946.6 419.8,946.3 421.2,946.1 422.7,945.8 424.1,945.5 425.6,945.2 427.0,944.9 428.5,944.7 427.6,940.0 426.2,940.3 424.7,940.6 423.2,940.9 421.8,941.1 420.3,941.4 418.9,941.7 417.4,942.0 415.9,942.3 414.5,942.6 413.0,942.9 411.6,943.2 410.1,943.5 408.6,943.8 407.2,944.1 405.7,944.5 404.2,944.8Z M452.6,940.6 454.0,940.4 455.5,940.2 456.9,940.0 458.4,939.7 459.8,939.5 461.3,939.3 462.7,939.1 464.2,938.9 465.6,938.7 467.1,938.5 468.5,938.3 470.0,938.1 471.4,937.9 472.9,937.7 474.4,937.5 475.8,937.3 475.2,932.6 473.7,932.8 472.3,933.0 470.8,933.2 469.4,933.4 467.9,933.6 466.4,933.8 465.0,934.0 463.5,934.2 462.1,934.4 460.6,934.6 459.1,934.8 457.7,935.0 456.2,935.3 454.8,935.5 453.3,935.7 451.8,935.9Z M499.9,934.5 504.6,934.0 509.2,933.5 513.9,933.1 518.5,932.6 523.2,932.2 522.7,927.4 518.1,927.9 513.4,928.3 508.7,928.8 504.1,929.3 499.4,929.8Z M547.3,930.2 551.9,929.8 556.6,929.4 561.3,929.1 565.9,928.8 570.6,928.4 570.2,923.7 565.6,924.0 560.9,924.3 556.2,924.7 551.6,925.0 546.9,925.4Z M594.7,926.9 599.4,926.6 604.0,926.3 608.7,926.1 613.3,925.8 618.0,925.6 617.7,920.8 613.1,921.0 608.4,921.3 603.7,921.6 599.1,921.8 594.4,922.1Z M642.1,924.3 646.8,924.1 651.4,923.9 656.1,923.7 660.7,923.4 665.4,923.2 665.2,918.4 660.5,918.6 655.9,918.9 651.2,919.1 646.5,919.3 641.9,919.5Z M689.5,922.2 694.2,922.0 698.9,921.8 703.5,921.6 708.2,921.5 712.8,921.3 712.7,916.5 708.0,916.7 703.3,916.8 698.7,917.0 694.0,917.2 689.4,917.4Z M737.0,920.4 741.6,920.3 746.3,920.1 751.0,920.0 755.6,919.8 760.3,919.7 760.1,914.9 755.5,915.0 750.8,915.2 746.1,915.3 741.5,915.5 736.8,915.6Z M784.4,918.9 789.1,918.8 793.7,918.7 798.4,918.5 803.1,918.4 807.7,918.3 807.6,913.5 802.9,913.6 798.3,913.7 793.6,913.9 788.9,914.0 784.3,914.1Z M831.9,917.7 836.5,917.5 841.2,917.4 845.8,917.3 850.5,917.2 855.2,917.1 855.0,912.3 850.4,912.4 845.7,912.5 841.1,912.6 836.4,912.7 831.7,912.9Z M879.3,916.6 884.0,916.5 888.6,916.4 893.3,916.3 897.9,916.2 902.6,916.1 902.5,911.3 897.8,911.4 893.2,911.5 888.5,911.6 883.9,911.7 879.2,911.8Z M926.7,915.6 931.4,915.5 936.1,915.5 940.7,915.4 945.4,915.3 950.0,915.2 950.0,910.4 945.3,910.5 940.6,910.6 936.0,910.7 931.3,910.7 926.7,910.8Z M974.2,914.8 978.8,914.7 983.5,914.6 988.2,914.6 992.8,914.5 997.5,914.4 997.4,909.6 992.8,909.7 988.1,909.8 983.4,909.8 978.8,909.9 974.1,910.0Z M1021.6,914.1 1026.3,914.0 1031.0,913.9 1035.6,913.9 1040.3,913.8 1044.9,913.7 1044.9,908.9 1040.2,909.0 1035.5,909.1 1030.9,909.1 1026.2,909.2 1021.6,909.3Z M1069.1,913.4 1073.7,913.4 1078.4,913.3 1083.1,913.2 1087.7,913.2 1092.4,913.1 1092.3,908.3 1087.7,908.4 1083.0,908.4 1078.3,908.5 1073.7,908.6 1069.0,908.6Z M1116.5,912.8 1121.2,912.8 1125.8,912.7 1130.5,912.7 1135.2,912.6 1139.8,912.6 1139.8,907.8 1135.1,907.8 1130.5,907.9 1125.8,907.9 1121.1,908.0 1116.5,908.0Z M1164.0,912.3 1168.6,912.3 1173.3,912.2 1178.0,912.2 1182.6,912.1 1187.3,912.1 1187.2,907.3 1182.6,907.3 1177.9,907.4 1173.2,907.4 1168.6,907.5 1163.9,907.5Z M1211.4,911.8 1216.1,911.8 1220.7,911.7 1225.4,911.7 1230.1,911.6 1234.7,911.6 1234.7,906.8 1230.0,906.8 1225.4,906.9 1220.7,906.9 1216.0,907.0 1211.4,907.0Z M1258.9,911.4 1263.5,911.3 1268.2,911.3 1272.9,911.3 1277.5,911.2 1282.2,911.2 1282.1,906.4 1277.5,906.4 1272.8,906.5 1268.1,906.5 1263.5,906.5 1258.8,906.6Z M1306.3,911.0 1311.0,911.0 1315.6,910.9 1320.3,910.9 1325.0,910.9 1329.6,910.8 1329.6,906.0 1324.9,906.1 1320.3,906.1 1315.6,906.1 1310.9,906.2 1306.3,906.2Z" fill="#8000ff"/>
<path d="M237.2,1139.1 238.7,1139.1 240.5,1138.8 242.2,1138.1 243.8,1137.2 245.3,1136.0 246.7,1134.6 248.2,1133.1 249.8,1131.4 251.3,1129.6 252.8,1127.5 254.3,1125.2 255.7,1122.8 257.2,1120.2 258.6,1117.4 260.0,1114.5 261.4,1111.5 262.9,1108.3 264.3,1105.0 265.7,1101.6 267.1,1098.0 268.5,1094.4 269.9,1090.8 271.3,1087.2 272.7,1083.6 274.1,1080.0 275.4,1076.4 276.8,1072.8 278.2,1069.2 279.6,1065.6 281.0,1062.0 282.4,1058.4 283.8,1054.9 285.2,1051.3 286.6,1047.8 287.9,1044.3 289.3,1040.9 290.7,1037.5 292.1,1034.1 293.5,1030.8 294.9,1027.5 296.3,1024.2 297.6,1021.0 299.0,1017.8 300.4,1014.6 301.8,1011.5 303.2,1008.5 304.5,1005.5 305.9,1002.6 307.3,999.8 308.6,997.2 310.0,994.6 311.3,992.2 312.7,989.8 314.1,987.5 315.5,985.2 316.8,982.9 318.2,980.6 319.6,978.4 320.9,976.2 322.3,974.1 323.7,972.0 325.1,969.9 326.5,967.8 327.9,965.8 329.2,963.7 330.6,961.7 332.0,959.7 333.4,957.8 334.7,955.9 336.1,954.0 337.5,952.1 338.9,950.3 340.3,948.5 341.7,946.5 343.1,944.5 344.5,942.5 345.9,940.6 347.2,938.7 348.5,937.0 349.8,935.4 351.1,933.9 352.5,932.5 353.8,931.1 355.2,929.7 356.6,928.5 358.0,927.2 359.4,926.0 360.8,924.8 362.2,923.7 363.5,922.6 364.9,921.5 366.3,920.5 367.7,919.5 369.1,918.6 370.5,917.6 371.8,916.6 373.2,915.7 374.6,914.7 376.0,913.8 377.4,912.9 378.8,912.0 380.1,911.2 381.5,910.3 382.9,909.5 384.3,908.6 385.7,907.8 387.1,907.0 388.4,906.2 389.8,905.4 391.2,904.6 392.6,903.8 394.0,903.1 395.4,902.3 396.8,901.5 398.1,900.8 399.5,900.0 400.9,899.3 402.3,898.5 403.7,897.8 405.1,897.1 406.5,896.4 407.8,895.7 409.2,895.0 410.6,894.3 412.0,893.6 413.4,892.9 414.8,892.2 416.2,891.6 417.5,890.9 418.9,890.3 420.3,889.6 421.7,889.0 423.1,888.4 424.5,887.8 425.8,887.2 427.2,886.6 428.6,886.0 430.0,885.4 431.4,884.8 432.7,884.3 434.1,883.7 435.5,883.2 436.9,882.6 438.3,882.1 439.7,881.5 441.0,881.0 442.4,880.5 443.8,880.0 445.2,879.5 446.6,879.0 448.0,878.5 449.3,878.0 450.7,877.5 452.1,877.0 453.5,876.6 454.9,876.1 456.3,875.6 457.7,875.2 459.0,874.7 460.4,874.3 461.8,873.8 463.2,873.4 464.6,873.0 466.0,872.5 467.3,872.1 468.7,871.7 470.1,871.3 471.5,870.9 472.9,870.5 474.3,870.1 475.7,869.7 477.0,869.3 478.4,868.9 479.8,868.5 481.2,868.1 482.6,867.7 484.0,867.4 485.4,867.0 486.7,866.6 488.1,866.3 492.6,865.1 497.0,864.0 501.4,863.0 505.9,861.9 510.3,860.9 514.7,860.0 519.2,859.0 523.6,858.1 528.1,857.2 532.5,856.3 536.9,855.5 541.4,854.6 545.8,853.8 550.3,853.0 554.7,852.2 559.1,851.5 563.6,850.7 568.0,850.0 572.5,849.3 576.9,848.6 581.4,847.9 585.8,847.2 590.2,846.6 594.7,845.9 599.1,845.3 603.6,844.7 608.0,844.1 612.5,843.5 616.9,843.0 621.3,842.4 625.8,841.9 630.2,841.3 634.7,840.8 639.1,840.3 643.6,839.8 648.0,839.3 652.5,838.8 656.9,838.3 661.4,837.8 665.8,837.3 670.2,836.9 674.7,836.4 679.1,836.0 683.6,835.6 688.0,835.1 692.5,834.7 696.9,834.3 701.4,833.9 705.8,833.5 710.3,833.1 714.7,832.7 719.2,832.3 723.6,831.9 728.1,831.6 732.5,831.2 736.9,830.9 741.4,830.5 745.8,830.2 750.3,829.8 754.7,829.5 759.2,829.1 763.6,828.8 768.1,828.5 772.5,828.2 777.0,827.9 781.4,827.6 785.9,827.3 790.3,827.0 794.8,826.7 799.2,826.4 803.7,826.1 808.1,825.8 812.6,825.5 817.0,825.2 821.5,825.0 825.9,824.7 830.4,824.4 834.8,824.2 839.3,823.9 843.7,823.6 848.2,823.4 852.6,823.1 857.1,822.9 861.5,822.6 865.9,822.4 870.4,822.2 874.8,821.9 879.3,821.7 883.7,821.5 888.2,821.2 892.6,821.0 897.1,820.8 901.5,820.6 906.0,820.3 910.4,820.1 914.9,819.9 919.3,819.7 923.8,819.5 928.2,819.3 932.7,819.1 937.1,818.9 941.6,818.7 946.0,818.5 950.5,818.3 954.9,818.1 959.4,817.9 963.8,817.7 968.3,817.6 972.7,817.4 977.2,817.2 981.6,817.0 986.1,816.8 990.5,816.7 995.0,816.5 999.4,816.3 1003.9,816.1 1008.3,816.0 1012.8,815.8 1017.2,815.6 1021.7,815.5 1026.1,815.3 1030.6,815.2 1035.0,815.0 1039.5,814.9 1043.9,814.7 1048.4,814.5 1052.8,814.4 1057.3,814.2 1061.7,814.1 1066.2,814.0 1070.6,813.8 1075.1,813.7 1079.5,813.5 1084.0,813.4 1088.4,813.3 1092.9,813.1 1097.3,813.0 1101.8,812.8 1106.2,812.7 1110.7,812.6 1115.1,812.4 1119.6,812.3 1124.0,812.2 1128.5,812.1 1132.9,811.9 1137.4,811.8 1141.8,811.7 1146.3,811.6 1150.7,811.5 1155.2,811.3 1159.6,811.2 1164.1,811.1 1168.5,811.0 1173.0,810.9 1177.4,810.7 1181.9,810.6 1186.3,810.5 1190.8,810.4 1195.2,810.3 1199.7,810.2 1204.1,810.1 1208.6,810.0 1213.0,809.9 1217.5,809.8 1221.9,809.7 1226.4,809.6 1230.8,809.4 1235.3,809.3 1239.7,809.2 1244.2,809.1 1248.6,809.0 1253.1,808.9 1257.5,808.8 1262.0,808.7 1266.4,808.7 1270.9,808.6 1275.3,808.5 1279.8,808.4 1284.2,808.3 1288.7,808.2 1293.1,808.1 1297.6,808.0 1302.0,807.9 1306.5,807.8 1310.9,807.7 1315.4,807.6 1319.8,807.6 1324.3,807.5 1328.7,807.4 1333.2,807.3 1337.6,807.2 1342.1,807.1 1346.5,807.0 1349.8,807.0 1349.8,802.2 1346.4,802.2 1342.0,802.3 1337.5,802.4 1333.1,802.5 1328.6,802.6 1324.2,802.7 1319.7,802.8 1315.3,802.8 1310.8,802.9 1306.4,803.0 1301.9,803.1 1297.5,803.2 1293.0,803.3 1288.6,803.4 1284.1,803.5 1279.7,803.6 1275.2,803.7 1270.8,803.8 1266.3,803.9 1261.9,804.0 1257.4,804.0 1253.0,804.1 1248.5,804.2 1244.0,804.3 1239.6,804.4 1235.1,804.5 1230.7,804.7 1226.2,804.8 1221.8,804.9 1217.3,805.0 1212.9,805.1 1208.4,805.2 1204.0,805.3 1199.5,805.4 1195.1,805.5 1190.6,805.6 1186.2,805.7 1181.7,805.8 1177.3,806.0 1172.8,806.1 1168.4,806.2 1163.9,806.3 1159.5,806.4 1155.0,806.5 1150.6,806.7 1146.1,806.8 1141.7,806.9 1137.2,807.0 1132.8,807.1 1128.3,807.3 1123.9,807.4 1119.4,807.5 1115.0,807.7 1110.5,807.8 1106.1,807.9 1101.6,808.0 1097.2,808.2 1092.7,808.3 1088.3,808.5 1083.8,808.6 1079.4,808.7 1074.9,808.9 1070.5,809.0 1066.0,809.2 1061.6,809.3 1057.1,809.5 1052.7,809.6 1048.2,809.8 1043.8,809.9 1039.3,810.1 1034.8,810.2 1030.4,810.4 1025.9,810.5 1021.5,810.7 1017.0,810.9 1012.6,811.0 1008.1,811.2 1003.7,811.4 999.2,811.5 994.8,811.7 990.3,811.9 985.9,812.0 981.4,812.2 977.0,812.4 972.5,812.6 968.1,812.8 963.6,813.0 959.2,813.1 954.7,813.3 950.3,813.5 945.8,813.7 941.4,813.9 936.9,814.1 932.5,814.3 928.0,814.5 923.6,814.7 919.1,814.9 914.7,815.1 910.2,815.3 905.8,815.6 901.3,815.8 896.9,816.0 892.4,816.2 887.9,816.4 883.5,816.7 879.0,816.9 874.6,817.1 870.1,817.4 865.7,817.6 861.2,817.9 856.8,818.1 852.3,818.3 847.9,818.6 843.4,818.9 839.0,819.1 834.5,819.4 830.1,819.6 825.6,819.9 821.2,820.2 816.7,820.4 812.3,820.7 807.8,821.0 803.4,821.3 798.9,821.6 794.5,821.9 790.0,822.2 785.5,822.5 781.1,822.8 776.6,823.1 772.2,823.4 767.7,823.7 763.3,824.0 758.8,824.4 754.4,824.7 749.9,825.0 745.5,825.4 741.0,825.7 736.6,826.1 732.1,826.4 727.7,826.8 723.2,827.2 718.8,827.6 714.3,827.9 709.8,828.3 705.4,828.7 700.9,829.1 696.5,829.5 692.0,829.9 687.6,830.4 683.1,830.8 678.7,831.2 674.2,831.7 669.8,832.1 665.3,832.6 660.8,833.1 656.4,833.5 651.9,834.0 647.5,834.5 643.0,835.0 638.6,835.5 634.1,836.1 629.7,836.6 625.2,837.1 620.8,837.7 616.3,838.2 611.8,838.8 607.4,839.4 602.9,840.0 598.5,840.6 594.0,841.2 589.6,841.9 585.1,842.5 580.6,843.2 576.2,843.9 571.7,844.6 567.3,845.3 562.8,846.1 558.3,846.8 553.9,847.6 549.4,848.4 545.0,849.2 540.5,850.0 536.0,850.8 531.6,851.7 527.1,852.6 522.7,853.5 518.2,854.4 513.7,855.4 509.3,856.4 504.8,857.4 500.4,858.4 495.9,859.5 491.4,860.6 487.0,861.8 485.6,862.1 484.2,862.5 482.8,862.9 481.4,863.3 480.0,863.6 478.6,864.0 477.2,864.4 475.8,864.8 474.4,865.2 473.0,865.6 471.6,866.0 470.2,866.4 468.8,866.9 467.4,867.3 466.0,867.7 464.6,868.1 463.2,868.6 461.8,869.0 460.4,869.5 459.0,869.9 457.6,870.4 456.2,870.9 454.8,871.3 453.4,871.8 452.0,872.3 450.6,872.8 449.2,873.2 447.8,873.7 446.4,874.2 445.0,874.7 443.6,875.3 442.2,875.8 440.9,876.3 439.5,876.8 438.1,877.4 436.7,877.9 435.3,878.5 433.9,879.0 432.5,879.6 431.1,880.1 429.7,880.7 428.3,881.3 426.9,881.9 425.5,882.5 424.1,883.1 422.7,883.8 421.3,884.4 419.9,885.0 418.5,885.7 417.1,886.3 415.7,887.0 414.3,887.7 412.9,888.3 411.5,889.0 410.1,889.7 408.7,890.4 407.3,891.1 405.9,891.9 404.5,892.6 403.1,893.3 401.7,894.1 400.3,894.8 398.9,895.6 397.5,896.3 396.1,897.1 394.7,897.9 393.3,898.6 391.9,899.4 390.5,900.2 389.2,901.0 387.8,901.8 386.4,902.6 385.0,903.4 383.6,904.3 382.2,905.1 380.8,906.0 379.4,906.9 378.0,907.7 376.6,908.6 375.2,909.6 373.8,910.5 372.4,911.5 371.0,912.4 369.6,913.4 368.2,914.4 366.8,915.4 365.4,916.4 364.0,917.4 362.6,918.5 361.2,919.7 359.8,920.8 358.4,922.0 357.0,923.3 355.6,924.6 354.2,925.9 352.8,927.3 351.4,928.7 350.0,930.1 348.6,931.5 347.1,933.0 345.6,934.6 344.2,936.4 342.7,938.3 341.3,940.2 339.9,942.2 338.5,944.2 337.2,946.2 335.8,948.0 334.4,949.8 333.0,951.7 331.6,953.6 330.2,955.5 328.8,957.5 327.4,959.5 326.0,961.5 324.6,963.5 323.2,965.6 321.8,967.7 320.4,969.8 319.0,971.9 317.6,974.0 316.1,976.2 314.7,978.4 313.3,980.7 311.9,983.0 310.5,985.4 309.1,987.7 307.7,990.1 306.3,992.6 304.9,995.2 303.4,997.9 302.0,1000.7 300.6,1003.6 299.2,1006.6 297.8,1009.7 296.4,1012.8 295.0,1016.0 293.6,1019.2 292.2,1022.5 290.8,1025.8 289.4,1029.1 288.0,1032.4 286.6,1035.8 285.2,1039.2 283.8,1042.7 282.4,1046.2 281.0,1049.7 279.6,1053.2 278.2,1056.8 276.8,1060.4 275.4,1064.0 274.1,1067.6 272.7,1071.2 271.3,1074.8 269.9,1078.4 268.5,1082.0 267.1,1085.6 265.7,1089.2 264.3,1092.8 262.9,1096.4 261.6,1099.9 260.2,1103.3 258.8,1106.6 257.5,1109.7 256.1,1112.7 254.7,1115.5 253.4,1118.2 252.1,1120.7 250.7,1123.1 249.4,1125.3 248.1,1127.3 246.9,1129.1 245.6,1130.7 244.3,1132.0 243.0,1132.9 241.7,1133.6 240.5,1134.0 239.4,1134.2 238.4,1134.3 237.2,1134.3Z" fill="#ff00ff"/>
<path d="M237.7,1138.9 239.3,1138.4 241.0,1137.5 242.5,1136.3 243.9,1134.7 245.5,1133.2 247.1,1131.3 248.6,1129.2 250.1,1126.8 251.5,1124.1 253.0,1121.2 254.4,1118.0 255.9,1114.7 257.3,1111.2 258.7,1107.6 260.1,1104.0 261.5,1100.4 262.9,1096.7 264.3,1092.9 265.7,1089.2 267.0,1085.4 268.4,1081.5 269.8,1077.7 271.2,1073.9 272.6,1070.0 274.0,1066.3 275.4,1062.6 276.7,1059.0 278.1,1055.5 279.5,1051.9 280.9,1048.4 282.3,1044.8 283.7,1041.2 285.1,1037.5 286.5,1034.0 287.9,1030.5 289.2,1027.0 290.6,1023.6 292.0,1020.3 293.4,1017.1 294.8,1013.9 296.1,1010.8 297.5,1007.7 298.9,1004.7 300.3,1001.8 301.6,998.9 303.0,996.1 304.4,993.4 305.7,990.8 307.1,988.3 308.4,986.0 309.8,983.7 311.2,981.5 312.5,979.4 313.9,977.3 315.2,975.3 316.6,973.3 318.0,971.4 319.3,969.5 320.7,967.7 322.1,965.9 323.4,964.2 324.8,962.5 326.2,960.9 327.5,959.2 328.9,957.7 330.3,956.1 331.6,954.6 333.0,953.1 334.4,951.6 335.7,950.2 337.1,948.8 338.5,947.4 339.9,946.1 341.3,944.7 342.7,943.4 344.0,942.1 345.4,940.9 346.8,939.6 348.2,938.5 349.6,937.3 351.0,936.2 352.4,935.1 353.7,934.1 355.1,933.1 356.5,932.1 357.9,931.1 359.3,930.1 360.7,929.2 362.0,928.3 363.4,927.4 364.8,926.5 366.2,925.7 367.6,924.8 368.9,924.0 370.3,923.2 371.7,922.4 373.1,921.6 374.5,920.8 375.9,920.0 377.2,919.3 378.6,918.5 380.0,917.8 381.4,917.1 382.8,916.4 384.2,915.7 385.5,915.0 386.9,914.3 388.3,913.6 389.7,913.0 391.1,912.3 392.5,911.7 393.8,911.0 395.2,910.4 396.6,909.7 398.0,909.1 399.4,908.5 400.8,907.9 402.2,907.3 403.5,906.6 404.9,906.0 406.3,905.5 407.7,904.9 409.1,904.3 410.5,903.7 411.9,903.1 413.2,902.6 414.6,902.0 416.0,901.5 417.4,900.9 418.8,900.4 420.2,899.9 421.5,899.4 422.9,898.8 424.3,898.3 425.7,897.8 427.1,897.3 428.5,896.9 429.8,896.4 431.2,895.9 432.6,895.4 434.0,895.0 435.4,894.5 436.7,894.1 438.1,893.7 439.5,893.3 440.9,892.8 442.3,892.4 443.7,892.0 445.0,891.6 446.4,891.2 447.8,890.8 449.2,890.4 450.6,890.0 452.0,889.6 453.4,889.2 454.7,888.9 456.1,888.5 457.5,888.1 458.9,887.7 460.3,887.4 461.7,887.0 463.1,886.7 464.4,886.3 465.8,886.0 467.2,885.6 468.6,885.3 470.0,885.0 471.4,884.6 472.7,884.3 474.1,884.0 475.5,883.7 476.9,883.4 478.3,883.0 479.7,882.7 481.1,882.4 482.4,882.1 483.8,881.8 485.2,881.6 486.6,881.3 488.0,881.0 492.4,880.1 496.9,879.2 501.3,878.4 505.7,877.6 510.2,876.9 514.6,876.1 519.1,875.4 523.5,874.7 527.9,874.0 532.4,873.3 536.8,872.7 541.3,872.0 545.7,871.4 550.1,870.8 554.6,870.2 559.0,869.6 563.5,869.0 567.9,868.4 572.4,867.9 576.8,867.3 581.3,866.8 585.7,866.3 590.2,865.7 594.6,865.2 599.0,864.7 603.5,864.3 607.9,863.8 612.4,863.3 616.8,862.9 621.3,862.4 625.7,862.0 630.2,861.6 634.6,861.1 639.1,860.7 643.5,860.3 648.0,859.9 652.4,859.5 656.8,859.1 661.3,858.8 665.7,858.4 670.2,858.0 674.6,857.7 679.1,857.3 683.5,857.0 688.0,856.6 692.4,856.3 696.9,856.0 701.3,855.6 705.8,855.3 710.2,855.0 714.7,854.7 719.1,854.4 723.6,854.1 728.0,853.8 732.5,853.5 736.9,853.2 741.4,852.9 745.8,852.7 750.2,852.4 754.7,852.1 759.1,851.9 763.6,851.6 768.0,851.4 772.5,851.1 776.9,850.9 781.4,850.6 785.8,850.4 790.3,850.1 794.7,849.9 799.2,849.7 803.6,849.5 808.1,849.2 812.5,849.0 817.0,848.8 821.4,848.6 825.9,848.4 830.3,848.2 834.8,848.0 839.2,847.8 843.7,847.6 848.1,847.4 852.6,847.2 857.0,847.0 861.5,846.8 865.9,846.6 870.4,846.4 874.8,846.3 879.3,846.1 883.7,845.9 888.2,845.7 892.6,845.5 897.1,845.4 901.5,845.2 906.0,845.0 910.4,844.9 914.9,844.7 919.3,844.6 923.8,844.4 928.2,844.2 932.7,844.1 937.1,843.9 941.6,843.8 946.0,843.6 950.5,843.5 954.9,843.3 959.4,843.2 963.8,843.1 968.3,842.9 972.7,842.8 977.1,842.6 981.6,842.5 986.0,842.4 990.5,842.2 994.9,842.1 999.4,842.0 1003.8,841.9 1008.3,841.7 1012.7,841.6 1017.2,841.5 1021.6,841.4 1026.1,841.2 1030.5,841.1 1035.0,841.0 1039.4,840.9 1043.9,840.8 1048.3,840.6 1052.8,840.5 1057.2,840.4 1061.7,840.3 1066.1,840.2 1070.6,840.1 1075.0,840.0 1079.5,839.9 1083.9,839.8 1088.4,839.7 1092.8,839.6 1097.3,839.5 1101.7,839.4 1106.2,839.3 1110.6,839.2 1115.1,839.1 1119.5,839.0 1124.0,838.9 1128.4,838.8 1132.9,838.7 1137.3,838.6 1141.8,838.5 1146.2,838.4 1150.7,838.3 1155.1,838.2 1159.6,838.1 1164.0,838.0 1168.5,838.0 1172.9,837.9 1177.4,837.8 1181.8,837.7 1186.3,837.6 1190.7,837.5 1195.2,837.4 1199.6,837.4 1204.1,837.3 1208.5,837.2 1213.0,837.1 1217.4,837.0 1221.9,837.0 1226.3,836.9 1230.8,836.8 1235.2,836.7 1239.7,836.6 1244.1,836.6 1248.6,836.5 1253.0,836.4 1257.5,836.3 1261.9,836.3 1266.4,836.2 1270.8,836.1 1275.3,836.1 1279.7,836.0 1284.2,835.9 1288.6,835.8 1293.1,835.8 1297.5,835.7 1302.0,835.6 1306.4,835.6 1310.9,835.5 1315.3,835.4 1319.8,835.4 1324.2,835.3 1328.7,835.2 1333.1,835.2 1337.6,835.1 1342.0,835.0 1346.5,835.0 1349.8,834.9 1349.8,830.3 1346.4,830.4 1342.0,830.4 1337.5,830.5 1333.1,830.6 1328.6,830.6 1324.2,830.7 1319.7,830.8 1315.3,830.8 1310.8,830.9 1306.4,831.0 1301.9,831.0 1297.5,831.1 1293.0,831.2 1288.6,831.2 1284.1,831.3 1279.7,831.4 1275.2,831.5 1270.8,831.5 1266.3,831.6 1261.9,831.7 1257.4,831.7 1253.0,831.8 1248.5,831.9 1244.1,832.0 1239.6,832.0 1235.2,832.1 1230.7,832.2 1226.3,832.3 1221.8,832.4 1217.4,832.4 1212.9,832.5 1208.5,832.6 1204.0,832.7 1199.6,832.8 1195.1,832.8 1190.7,832.9 1186.2,833.0 1181.8,833.1 1177.3,833.2 1172.9,833.3 1168.4,833.4 1164.0,833.4 1159.5,833.5 1155.0,833.6 1150.6,833.7 1146.1,833.8 1141.7,833.9 1137.2,834.0 1132.8,834.1 1128.3,834.2 1123.9,834.3 1119.4,834.4 1115.0,834.5 1110.5,834.6 1106.1,834.7 1101.6,834.8 1097.2,834.9 1092.7,835.0 1088.3,835.1 1083.8,835.2 1079.4,835.3 1074.9,835.4 1070.5,835.5 1066.0,835.6 1061.6,835.7 1057.1,835.8 1052.7,835.9 1048.2,836.1 1043.8,836.2 1039.3,836.3 1034.9,836.4 1030.4,836.5 1026.0,836.6 1021.5,836.8 1017.1,836.9 1012.6,837.0 1008.2,837.1 1003.7,837.3 999.3,837.4 994.8,837.5 990.4,837.6 985.9,837.8 981.5,837.9 977.0,838.1 972.6,838.2 968.1,838.3 963.7,838.5 959.2,838.6 954.8,838.8 950.3,838.9 945.8,839.0 941.4,839.2 936.9,839.3 932.5,839.5 928.0,839.7 923.6,839.8 919.1,840.0 914.7,840.1 910.2,840.3 905.8,840.5 901.3,840.6 896.9,840.8 892.4,841.0 888.0,841.1 883.5,841.3 879.1,841.5 874.6,841.7 870.2,841.8 865.7,842.0 861.3,842.2 856.8,842.4 852.4,842.6 847.9,842.8 843.5,843.0 839.0,843.2 834.6,843.4 830.1,843.6 825.7,843.8 821.2,844.0 816.8,844.2 812.3,844.4 807.9,844.6 803.4,844.9 798.9,845.1 794.5,845.3 790.0,845.6 785.6,845.8 781.1,846.0 776.7,846.3 772.2,846.5 767.8,846.8 763.3,847.0 758.9,847.3 754.4,847.6 750.0,847.8 745.5,848.1 741.1,848.4 736.6,848.6 732.2,848.9 727.7,849.2 723.3,849.5 718.8,849.8 714.3,850.1 709.9,850.4 705.4,850.7 701.0,851.1 696.5,851.4 692.1,851.7 687.6,852.1 683.2,852.4 678.7,852.7 674.3,853.1 669.8,853.5 665.4,853.8 660.9,854.2 656.5,854.6 652.0,855.0 647.5,855.4 643.1,855.8 638.6,856.2 634.2,856.6 629.7,857.0 625.3,857.4 620.8,857.9 616.4,858.3 611.9,858.8 607.5,859.2 603.0,859.7 598.5,860.2 594.1,860.7 589.6,861.2 585.2,861.7 580.7,862.3 576.3,862.8 571.8,863.4 567.4,863.9 562.9,864.5 558.4,865.1 554.0,865.7 549.5,866.3 545.1,866.9 540.6,867.5 536.2,868.2 531.7,868.8 527.2,869.5 522.8,870.2 518.3,870.9 513.9,871.7 509.4,872.4 504.9,873.2 500.5,874.0 496.0,874.8 491.6,875.7 487.1,876.6 485.7,876.9 484.3,877.1 482.9,877.4 481.5,877.7 480.1,878.0 478.7,878.3 477.3,878.7 475.9,879.0 474.5,879.3 473.1,879.6 471.7,879.9 470.3,880.3 468.9,880.6 467.5,880.9 466.1,881.3 464.7,881.6 463.3,882.0 461.9,882.3 460.6,882.7 459.2,883.1 457.8,883.4 456.4,883.8 455.0,884.2 453.6,884.6 452.2,885.0 450.8,885.4 449.4,885.7 448.0,886.1 446.6,886.5 445.2,887.0 443.8,887.4 442.4,887.8 441.0,888.2 439.6,888.6 438.2,889.1 436.8,889.5 435.4,889.9 434.0,890.4 432.6,890.8 431.2,891.3 429.8,891.8 428.4,892.3 427.0,892.8 425.6,893.3 424.2,893.8 422.8,894.3 421.4,894.8 420.0,895.3 418.6,895.9 417.2,896.4 415.8,896.9 414.4,897.5 413.0,898.1 411.6,898.6 410.2,899.2 408.8,899.8 407.4,900.4 406.0,901.0 404.6,901.6 403.3,902.2 401.9,902.8 400.5,903.4 399.1,904.0 397.7,904.7 396.3,905.3 394.9,905.9 393.5,906.6 392.1,907.2 390.7,907.9 389.3,908.5 387.9,909.2 386.5,909.9 385.1,910.6 383.7,911.3 382.3,912.0 380.9,912.7 379.5,913.5 378.1,914.2 376.7,915.0 375.3,915.8 373.9,916.5 372.5,917.3 371.1,918.1 369.7,919.0 368.3,919.8 366.9,920.6 365.5,921.5 364.1,922.4 362.7,923.3 361.3,924.2 359.9,925.1 358.5,926.1 357.1,927.0 355.7,928.0 354.3,929.0 352.9,930.1 351.5,931.2 350.1,932.3 348.7,933.4 347.3,934.6 345.9,935.8 344.5,937.1 343.1,938.4 341.7,939.7 340.4,941.0 339.0,942.4 337.6,943.7 336.2,945.1 334.8,946.5 333.4,947.9 332.0,949.4 330.6,950.8 329.1,952.3 327.7,953.8 326.3,955.4 324.9,957.0 323.5,958.6 322.1,960.3 320.7,962.0 319.2,963.7 317.8,965.5 316.4,967.3 315.0,969.2 313.6,971.1 312.1,973.1 310.7,975.1 309.3,977.2 307.9,979.4 306.5,981.6 305.0,983.9 303.6,986.4 302.2,988.9 300.8,991.5 299.3,994.2 297.9,997.1 296.5,1000.0 295.1,1003.0 293.7,1006.0 292.3,1009.1 290.9,1012.2 289.5,1015.4 288.1,1018.7 286.7,1022.0 285.3,1025.4 283.9,1028.9 282.5,1032.4 281.1,1036.0 279.7,1039.7 278.3,1043.3 276.9,1046.8 275.5,1050.4 274.1,1053.9 272.8,1057.5 271.4,1061.1 269.9,1064.8 268.5,1068.6 267.2,1072.4 265.8,1076.2 264.4,1080.1 263.0,1083.9 261.6,1087.7 260.2,1091.4 258.8,1095.2 257.4,1098.8 256.1,1102.5 254.7,1106.1 253.3,1109.6 251.9,1113.1 250.6,1116.3 249.2,1119.4 247.9,1122.3 246.6,1124.8 245.3,1127.1 244.0,1129.2 242.8,1130.9 241.6,1132.4 240.3,1133.4 239.0,1134.0 237.9,1134.3 236.7,1134.5Z" fill="#ff8000"/>
<g font-size="70.5">
<text transform="translate(222.0,1160.1) scale(0.945,1)" text-anchor="end">0</text>
<text transform="translate(222.0,990.9) scale(0.945,1)" text-anchor="end">100</text>
<text transform="translate(222.0,821.8) scale(0.945,1)" text-anchor="end">200</text>
<text transform="translate(222.0,652.6) scale(0.945,1)" text-anchor="end">300</text>
<text transform="translate(222.0,483.5) scale(0.945,1)" text-anchor="end">400</text>
<text transform="translate(222.0,314.3) scale(0.945,1)" text-anchor="end">500</text>
<text transform="translate(222.0,145.2) scale(0.945,1)" text-anchor="end">600</text>
<text transform="translate(236.5,1195.8) scale(0.945,1)" text-anchor="middle">0</text>
<text transform="translate(514.6,1195.8) scale(0.945,1)" text-anchor="middle">50</text>
<text transform="translate(792.8,1195.8) scale(0.945,1)" text-anchor="middle">100</text>
<text transform="translate(1070.9,1195.8) scale(0.945,1)" text-anchor="middle">150</text>
<text transform="translate(1349.1,1195.8) scale(0.945,1)" text-anchor="middle">200</text>
</g>
<text class="b" font-size="65.7" transform="translate(90.5,626.3) rotate(-90)" text-anchor="middle">Elastic Modulus (GPa)</text>
<text class="b" font-size="65.7" x="534" y="1260">Overlap length (l</text>
<text class="b" font-size="36" x="1025.5" y="1280.5">0</text>
<text class="b" font-size="65.7" x="1048" y="1260">)</text>
<path d="M284,54.6 H581.2" stroke="#000" stroke-width="5.0" fill="none"/>
<text class="b" font-size="65" x="631.5" y="73.4">V</text><text class="b" font-size="34.5" x="679.5" y="94.4">f</text><text class="b" font-size="65" x="692.5" y="73.4">=0.0</text><text class="b" font-size="65" x="829" y="73.4" textLength="183.5" lengthAdjust="spacingAndGlyphs">(CNT)</text>
<path d="M284,127.1 H581.2" stroke="#ff0000" stroke-width="5.0" fill="none"/>
<text class="b" font-size="65" x="631.5" y="145.9">V</text><text class="b" font-size="34.5" x="679.5" y="166.9">f</text><text class="b" font-size="65" x="692.5" y="145.9">=0.55</text>
<path d="M284,199.6 H581.2" stroke="#00d200" stroke-width="6.2" fill="none"/>
<text class="b" font-size="65" x="631.5" y="218.4">V</text><text class="b" font-size="34.5" x="679.5" y="239.4">f</text><text class="b" font-size="65" x="692.5" y="218.4">=0.75</text>
<path d="M284,272.1 H581.2" stroke="#2d2dff" stroke-width="5.0" fill="none"/>
<text class="b" font-size="65" x="631.5" y="290.9">V</text><text class="b" font-size="34.5" x="679.5" y="311.9">f</text><text class="b" font-size="65" x="692.5" y="290.9">=0.84</text>
<path d="M284,344.6 H581.2" stroke="#ff00ff" stroke-width="5.0" fill="none"/>
<text class="b" font-size="65" x="631.5" y="363.4">V</text><text class="b" font-size="34.5" x="679.5" y="384.4">f</text><text class="b" font-size="65" x="692.5" y="363.4">=0.89</text>
<path d="M284,417.1 H581.2" stroke="#ff8000" stroke-width="5.0" fill="none"/>
<text class="b" font-size="65" x="631.5" y="435.9">V</text><text class="b" font-size="34.5" x="679.5" y="456.9">f</text><text class="b" font-size="65" x="692.5" y="435.9">=0.91</text>
<path d="M284,489.6 H581.2" stroke="#8000ff" stroke-width="5.0" fill="none" stroke-dasharray="23 24.6"/>
<text class="b" font-size="65" x="631.5" y="509.9" textLength="145.5" lengthAdjust="spacingAndGlyphs">CNC</text>
<path d="M981.2,675.4 L900,620.5" stroke="#000" stroke-width="3.8" fill="none" stroke-linecap="butt"/>
<path d="M867.4,596.9 L905.96,614.77 L895.24,626.93 Z" fill="#000" stroke="#000" stroke-width="1.2" stroke-linejoin="round"/>
<text class="b" font-size="55.5" x="955" y="634.5">l</text><text class="b" font-size="33" x="984" y="650.5">0</text><text class="b" font-size="55.5" x="998.5" y="634.5">=110 nm</text>
</g>
<text font-size="87.5" transform="translate(731.2,1445.7) scale(0.84,1)">(</text><text class="b" font-size="89" x="759" y="1446" textLength="35" lengthAdjust="spacingAndGlyphs">c</text><text font-size="87.5" transform="translate(795.6,1445.7) scale(0.84,1)">)</text>
</svg>
</body></html>
